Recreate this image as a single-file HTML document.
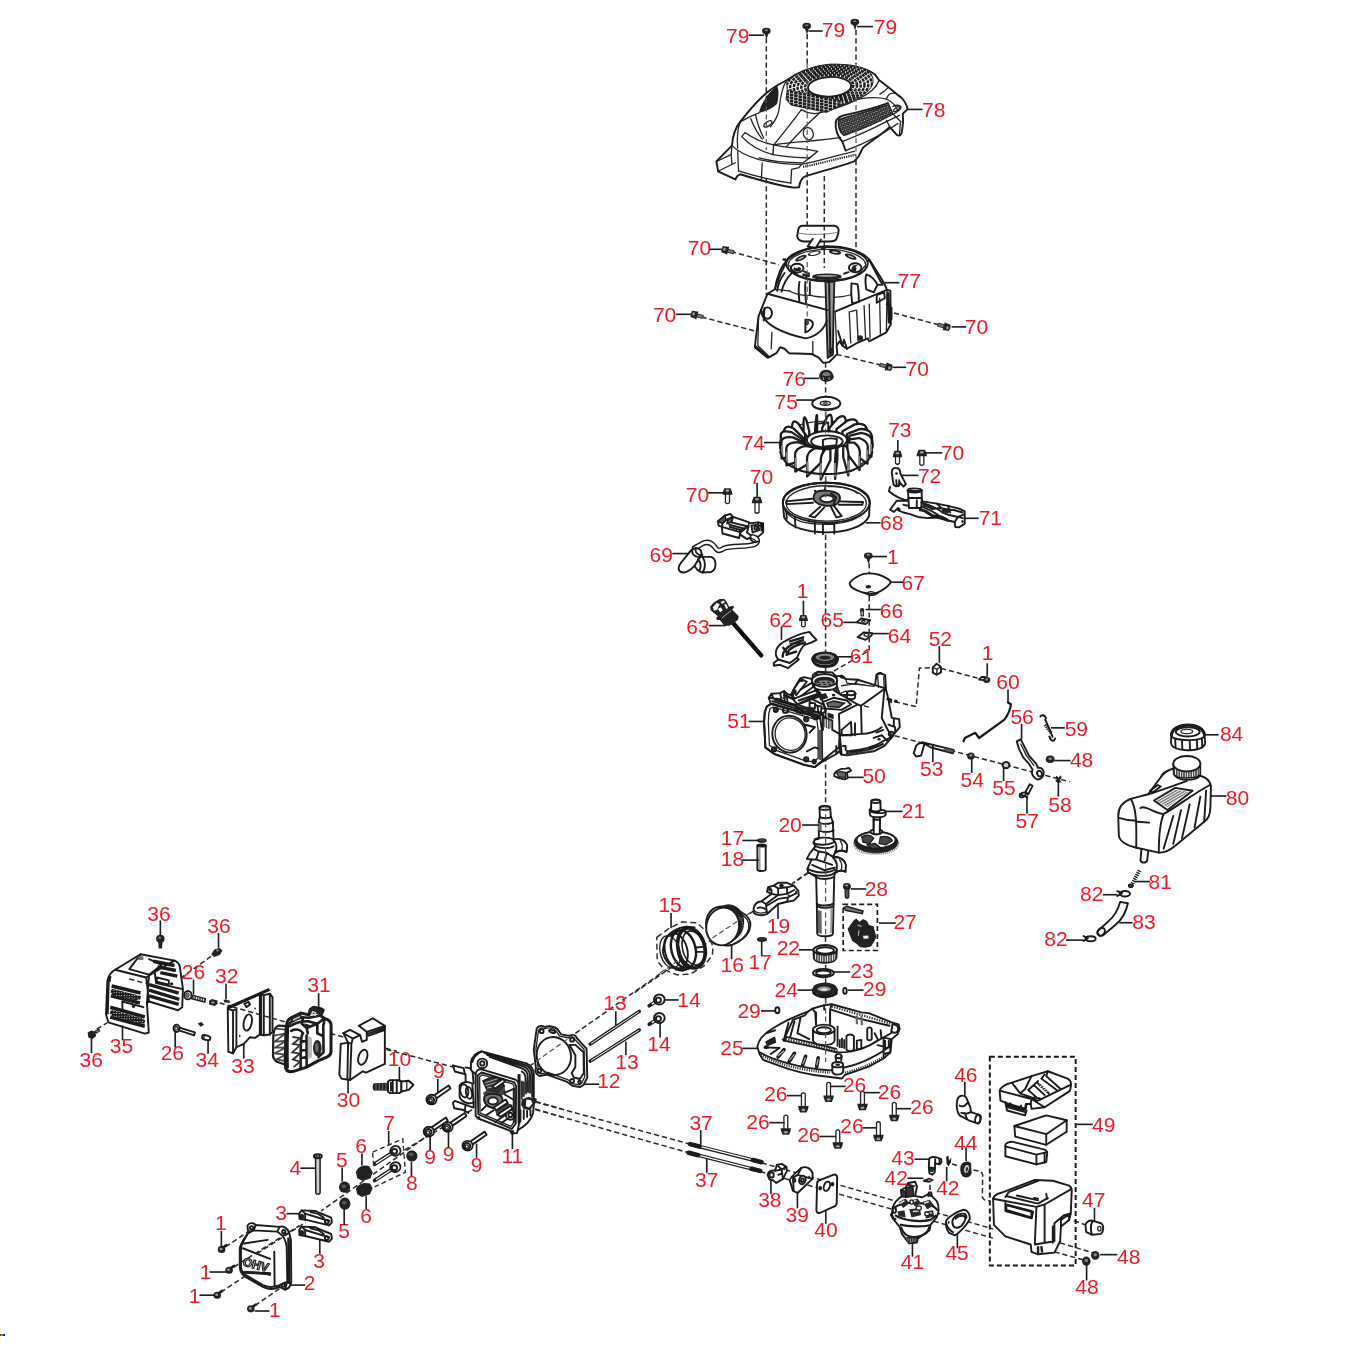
<!DOCTYPE html>
<html><head><meta charset="utf-8"><title>Engine exploded view</title>
<style>
html,body{margin:0;padding:0;background:#fff;}
body{width:1346px;height:1346px;overflow:hidden;font-family:"Liberation Sans",sans-serif;}
svg{display:block;}
.t{font-family:"Liberation Sans",sans-serif;font-size:21px;fill:#ee1c25;text-anchor:middle;}
.l{stroke:#1a1a1a;stroke-width:1.6;fill:none;}
.d{stroke:#2a2a2a;stroke-width:1.5;fill:none;stroke-dasharray:5.2 3;}
.d2{stroke:#555;stroke-width:1.2;fill:none;stroke-dasharray:5.2 3;}
.p{stroke:#222;stroke-width:1.3;fill:none;stroke-linejoin:round;stroke-linecap:round;}
.pw{stroke:#222;stroke-width:1.3;fill:#fff;stroke-linejoin:round;stroke-linecap:round;}
.pb{stroke:#1a1a1a;stroke-width:1.9;fill:none;stroke-linejoin:round;stroke-linecap:round;}
.pbw{stroke:#1a1a1a;stroke-width:1.9;fill:#fff;stroke-linejoin:round;stroke-linecap:round;}
.pt{stroke:#555;stroke-width:0.8;fill:none;stroke-linejoin:round;stroke-linecap:round;}
.k{fill:#222;stroke:none;}
.g{fill:#666;stroke:none;}
.w{fill:#fff;stroke:none;}
</style></head><body>
<svg width="1346" height="1346" viewBox="0 0 1346 1346">
<defs>
<filter id="soft" x="0" y="0" width="1346" height="1346" filterUnits="userSpaceOnUse"><feGaussianBlur stdDeviation="0.6"/></filter>
<pattern id="hx" width="2.6" height="2.6" patternUnits="userSpaceOnUse"><rect width="2.6" height="2.6" fill="#fff"/><path d="M0 0.8H2.6M0.8 0V2.6" stroke="#1a1a1a" stroke-width="1.7"/></pattern>
<pattern id="hd" width="2.4" height="2.4" patternUnits="userSpaceOnUse" patternTransform="rotate(-30)"><rect width="2.4" height="2.4" fill="#fff"/><path d="M0 0.8H2.4" stroke="#222" stroke-width="1.5"/></pattern>
<pattern id="hs" width="3" height="3" patternUnits="userSpaceOnUse" patternTransform="rotate(-25)"><rect width="3" height="3" fill="#1a1a1a"/><path d="M0 0.5H1.2M1.5 2H2.6" stroke="#fff" stroke-width="0.8"/></pattern>
<pattern id="hv" width="2.4" height="2.4" patternUnits="userSpaceOnUse"><rect width="2.4" height="2.4" fill="#fff"/><path d="M0.8 0V2.4" stroke="#222" stroke-width="1.3"/></pattern>
</defs>
<rect width="1346" height="1346" fill="#fff"/>
<g filter="url(#soft)">
<g id="00_dash">
<path class="d" d="M825.6 338L825.6 820"/>
<path class="d" d="M869.2 563.18L869.2 650.55L830.86 672.84"/>
<path class="d" d="M894.9 701.72L916.15 706.63L919.42 668.22L937.4 667.4L986.43 680.48"/>
<path class="d" d="M886.73 733.6L1069.79 781.81"/>
<path class="d" d="M825.53 936.43L825.53 945.13"/>
<path class="d" d="M808.14 872.24L792.1 883.61"/>
<path class="d" d="M808.5 872.82L793.79 882.85"/>
<path class="d" d="M753.67 910.94L634.65 992.51"/>
<path class="d" d="M825.64 964.86L825.64 969.32"/>
<path class="d" d="M825.64 978.23L825.64 983.43"/>
<path class="d" d="M825.64 997.55L825.64 1006.46"/>
<path class="d" d="M660.07 973.81L573.89 1034.44"/>
<path class="d" d="M566.46 1039.93L530.8 1065.19"/>
<path class="d" d="M454.89 1067.44L371.98 1045.78"/>
<path class="d" d="M472.27 1109.57L404.07 1150.36"/>
<path class="d" d="M535.79 1101.55L561.87 1108.9"/>
<path class="d" d="M535.13 1108.9L561.87 1116.92"/>
<path class="d" d="M424.14 1138.11L321.17 1211"/>
<path class="d" d="M211.16 956.34L181.52 977.52"/>
<path class="d" d="M96.82 1029.04L107.41 1022.69"/>
<path class="d" d="M219.63 1002.93L252.1 1012.1"/>
<path class="d" d="M232.38 1006.72L287.88 1022.77"/>
<path class="d" d="M330.27 1033.47L396.87 1051.26"/>
<path class="d" d="M535.3 1102L690 1144.1"/>
<path class="d" d="M535.3 1109.5L688.7 1152.8"/>
<path class="d" d="M761.58 1162.85L992.93 1228.92"/>
<path class="d" d="M760.24 1171.55L992.93 1238.14"/>
<path class="d" d="M952.02 1163.98L960.34 1166.6"/>
<path class="d" d="M973.42 1169.93L981.14 1171.71L982.69 1174.68L982.33 1197.27L984.12 1199.64L990.06 1201.07"/>
<path class="d" d="M930.03 1184.78L930.03 1193.11"/>
<path class="d" d="M1074.03 1220.8L1085.47 1224.89"/>
<path class="d" d="M1060.13 1242.87L1095.27 1253.49"/>
<path class="d" d="M1054.41 1251.86L1083.83 1260.03"/>
<path class="d" d="M731 251.5L779 264.8"/>
<path class="d" d="M701.5 317L757.7 331.7"/>
<path class="d" d="M894 313L939.5 325"/>
<path class="d" d="M836.6 354.4L880.7 365.1"/>
</g>
<g id="01_helpers">
</g>
<g id="10_cover78">
<path class="pbw" d="M786.72 80.24C796.53 72.88 811.24 67.16 829.22 64.71C848.83 63.89 866.81 67.98 874.99 74.52L879.07 80.24C886.43 85.14 894.6 92.5 901.14 97.4C905.22 101.49 906.86 105.57 907.67 109.17L902.77 113.74L903.1 121.92L901.95 131.72C901.14 136.63 897.87 136.63 895.42 133.36L889.7 126.82C881.52 134.99 870.08 141.53 862.73 148.07L858.64 156.24L854.55 161.14C839.03 166.86 819.41 171.77 806.34 175.85C801.43 177.49 799.8 180.76 798.98 187.3L794.08 187.62C776.92 185.33 758.94 179.94 740.14 174.22L737.04 176.18L735.4 179.45L718.08 171.28L716.44 161.47L722.98 154.61L731.97 145.62C732.79 134.99 736.05 126.82 740.14 121.92C749.13 110.48 758.94 99.03 767.11 92.5C773.65 86.78 780.19 83.51 786.72 80.24Z"/>
<path class="p" d="M786.72 80.24C781.82 87.59 780.19 99.03 779.37 107.21C778.55 115.38 775.28 120.28 770.38 126.82"/>
<path class="p" d="M740.14 121.92C745.86 118.65 752.4 115.38 758.94 112.93"/>
<path class="k" d="M758.94 112.93C760.57 103.94 767.11 94.13 776.92 85.14C779.37 89.23 778.55 99.03 776.92 103.94C772.01 108.84 765.48 111.29 758.94 112.93Z"/>
<path class="p" d="M879.07 80.24C876.62 87.59 868.45 94.13 858.64 99.03C845.56 105.57 829.22 110.48 819.41 112.93C809.61 115.38 803.07 110.48 801.43 109.66"/>
<path class="p" d="M801.43 109.66C793.26 120.28 783.45 133.36 773.65 144.8"/>
<path class="p" d="M819.41 112.93C809.61 121.92 796.53 134.99 786.72 146.43"/>
<path class="p" d="M858.64 99.03C868.45 97.4 878.25 96.58 886.43 99.03C892.96 102.3 896.23 106.39 897.87 110.48"/>
<path class="p" d="M886.43 99.03C888.06 94.13 891.33 92.82 894.6 93.31"/>
<path class="p" d="M888.06 87.59C884.79 90.86 882.34 92.82 879.89 94.13"/>
<clipPath id="gc"><path d="M786.52 81C794.32 74.76 806.81 68.52 818.25 65.92C832.81 62.8 853.61 64.36 864.01 68.52C871.29 71.64 873.89 76.84 872.85 83.08C871.81 89.32 864.01 95.56 853.61 100.77L842.17 104.93L826.57 112.41L791.2 105.13L786 99.21L787.25 89.84Z"/></clipPath>
<g clip-path="url(#gc)">
<path class="" d="M786.52 81C794.32 74.76 806.81 68.52 818.25 65.92C832.81 62.8 853.61 64.36 864.01 68.52C871.29 71.64 873.89 76.84 872.85 83.08C871.81 89.32 864.01 95.56 853.61 100.77L842.17 104.93L826.57 112.41L791.2 105.13L786 99.21L787.25 89.84Z" fill="#fff" stroke="none"/>
<ellipse class="" cx="829.17" cy="86.2" rx="24.13" ry="11.44" transform="rotate(-3 829.17 86.2)" fill="none" stroke="#1a1a1a" stroke-width="2.5" stroke-dasharray="3.2 0.9"/>
<ellipse class="" cx="829.17" cy="86.2" rx="27.88" ry="13.42" transform="rotate(-3 829.17 86.2)" fill="none" stroke="#1a1a1a" stroke-width="2.5" stroke-dasharray="3.2 0.9"/>
<ellipse class="" cx="829.17" cy="86.2" rx="31.62" ry="15.39" transform="rotate(-3 829.17 86.2)" fill="none" stroke="#1a1a1a" stroke-width="2.5" stroke-dasharray="3.2 0.9"/>
<ellipse class="" cx="829.17" cy="86.2" rx="35.36" ry="17.37" transform="rotate(-3 829.17 86.2)" fill="none" stroke="#1a1a1a" stroke-width="2.5" stroke-dasharray="3.2 0.9"/>
<ellipse class="" cx="829.17" cy="86.2" rx="39.11" ry="19.35" transform="rotate(-3 829.17 86.2)" fill="none" stroke="#1a1a1a" stroke-width="2.5" stroke-dasharray="3.2 0.9"/>
<ellipse class="" cx="829.17" cy="86.2" rx="42.85" ry="21.32" transform="rotate(-3 829.17 86.2)" fill="none" stroke="#1a1a1a" stroke-width="2.5" stroke-dasharray="3.2 0.9"/>
<ellipse class="" cx="829.17" cy="86.2" rx="46.6" ry="23.3" transform="rotate(-3 829.17 86.2)" fill="none" stroke="#1a1a1a" stroke-width="2.5" stroke-dasharray="3.2 0.9"/>
<path class="" d="M784.96 89.32L845.29 101.81L826.57 113.25L784.96 104.93Z" fill="#fff" stroke="none"/>
<path class="" d="M785.48 90.57L843.21 102.22" fill="none" stroke="#1a1a1a" stroke-width="2.7" stroke-dasharray="3.6 0.8"/>
<path class="" d="M785.48 93.69L843.21 105.34" fill="none" stroke="#1a1a1a" stroke-width="2.7" stroke-dasharray="3.6 0.8"/>
<path class="" d="M785.48 96.81L843.21 108.46" fill="none" stroke="#1a1a1a" stroke-width="2.7" stroke-dasharray="3.6 0.8"/>
<path class="" d="M785.48 99.93L843.21 111.58" fill="none" stroke="#1a1a1a" stroke-width="2.7" stroke-dasharray="3.6 0.8"/>
<path class="" d="M785.48 103.05L843.21 114.7" fill="none" stroke="#1a1a1a" stroke-width="2.7" stroke-dasharray="3.6 0.8"/>
<path class="" d="M785.48 106.17L843.21 117.82" fill="none" stroke="#1a1a1a" stroke-width="2.7" stroke-dasharray="3.6 0.8"/>
<path class="" d="M785.48 109.29L843.21 120.94" fill="none" stroke="#1a1a1a" stroke-width="2.7" stroke-dasharray="3.6 0.8"/>
</g>
<path class="" d="M786.52 81C794.32 74.76 806.81 68.52 818.25 65.92C832.81 62.8 853.61 64.36 864.01 68.52C871.29 71.64 873.89 76.84 872.85 83.08C871.81 89.32 864.01 95.56 853.61 100.77L842.17 104.93L826.57 112.41L791.2 105.13L786 99.21L787.25 89.84Z" fill="none" stroke="#222" stroke-width="0.9"/>
<ellipse class="pbw" cx="829.55" cy="86.78" rx="21.58" ry="9.81" transform="rotate(-3 829.55 86.78)" stroke-width="2.6"/>
<path class="" d="M839.03 119.47C852.1 115.38 871.72 110.48 888.88 104.75L892.96 114.07C878.25 121.92 860.27 130.09 843.93 135.32C839.03 131.72 837.39 125.19 839.03 119.47Z" fill="url(#hs)" stroke="#222" stroke-width="1.4"/>
<path class="pb" d="M835.76 121.92C837.39 117.01 842.3 115.38 847.2 114.56C861.91 111.29 876.62 107.21 888.06 103.12"/>
<path class="pb" d="M835.76 121.92C834.94 128.45 837.39 136.63 842.3 141.53L845.56 150.52"/>
<path class="p" d="M892.96 114.07L901.14 121.92M889.7 126.82L886.43 120.28M892.96 106.39C896.23 104.75 900.32 104.75 901.14 107.21C899.5 111.29 895.42 112.93 892.96 114.07"/>
<ellipse class="p" cx="896.56" cy="109.17" rx="3.6" ry="1.47" transform="rotate(-35 896.56 109.17)"/>
<path class="p" d="M895.42 133.36L892.96 130.09M900.32 122.73L899.5 134.99"/>
<ellipse class="p" cx="767.93" cy="123.88" rx="4.58" ry="2.12" transform="rotate(-35 767.93 123.88)"/>
<ellipse class="p" cx="808.3" cy="133.68" rx="4.9" ry="6.21" transform="rotate(-15 808.3 133.68)"/>
<path class="p" d="M773.65 144.8C789.99 141.53 819.41 141.53 840.66 137.44"/>
<path class="p" d="M842.3 141.53C868.45 131.72 884.79 121.92 899.5 115.38"/>
<path class="p" d="M845.56 150.52C861.91 144.8 881.52 134.99 897.87 123.55"/>
<path class="pw" d="M773.65 144.8C786.72 148.07 803.07 148.07 817.78 151.34L809.61 157.88C796.53 157.88 783.45 156.24 772.83 154.61Z"/>
<path class="pw" d="M745.04 132.54C754.03 139.08 763.84 143.16 773.65 144.8L772.83 154.61C760.57 151.34 749.13 144.8 741.78 136.63Z"/>
<path class="p" d="M809.61 157.88L803.07 162.78C789.99 162.78 770.38 161.14 758.94 157.88"/>
<path class="p" d="M731.97 145.62C737.69 151.34 747.5 156.24 758.94 159.51C773.65 162.78 789.99 164.41 801.43 164.41"/>
<path class="p" d="M737.69 151.34L738.51 170.95M762.21 162.78L761.39 179.12M801.43 164.41L798.98 167.68L791.63 169.32L790.81 183.21"/>
<path class="p" d="M738.51 170.95C754.03 175.85 773.65 180.76 790.81 183.21"/>
<path class="p" d="M718.08 171.28L735.24 162.78M716.44 161.47L731.15 154.61L731.97 145.62"/>
<path class="p" d="M731.15 154.61L731.97 164.41"/>
<path class="p" d="M801.43 164.41C819.41 161.14 839.03 154.61 854.55 151.34"/>
<path class="" d="M803.07 166.86C819.41 163.6 840.66 157.88 856.19 154.61" stroke="#222" stroke-width="2.2" fill="none" stroke-dasharray="1.2 1"/>
<path class="p" d="M750.77 118.65C754.03 126.82 758.94 134.99 762.21 139.08M755.67 115.38C757.3 123.55 760.57 131.72 763.84 138.26"/>
<path class="p" d="M740.14 121.92C737.69 128.45 736.87 138.26 737.69 148.07"/>
</g>
<g id="11_starter77">
<path class="pbw" d="M767.49 293.75L774.92 289.29C777.15 274.44 781.6 265.52 787.55 259.58C799.44 249.18 817.27 245.46 829.15 246.2C846.98 246.2 863.33 252.15 869.27 259.58C876.7 271.46 881.16 277.41 884.13 283.35L887.1 290.04L890.37 290.78L890.82 324.21L886.36 332.38L869.27 341.3L867.79 338.33L857.38 342.79L846.98 348.73L842.53 345.76L839.55 341.3L836.58 345.76L837.33 353.93L829.15 362.1L823.21 362.85L818.75 357.64L811.32 353.93L789.03 353.19L784.58 348.73L780.12 347.24L776.4 353.19L768.23 357.64L754.86 346.5L758.57 316.04Z"/>
<ellipse class="pb" cx="826.92" cy="263.74" rx="40.86" ry="16.79"/>
<ellipse class="p" cx="826.92" cy="265.52" rx="38.93" ry="16.05"/>
<path class="p" d="M789.78 265.52C793.49 277.41 811.32 281.12 826.92 281.12C842.53 281.12 858.87 277.41 864.52 266.26"/>
<ellipse class="k" cx="800.92" cy="258.09" rx="6.24" ry="2.38" transform="rotate(-25 800.92 258.09)"/>
<ellipse class="" cx="800.92" cy="258.09" rx="3.27" ry="0.74" transform="rotate(-25 800.92 258.09)" fill="#ccc"/>
<ellipse class="k" cx="814.29" cy="253.34" rx="6.69" ry="2.38" transform="rotate(-12 814.29 253.34)"/>
<ellipse class="w" cx="814.29" cy="253.34" rx="4.75" ry="1.34" transform="rotate(-12 814.29 253.34)"/>
<ellipse class="k" cx="835.1" cy="252.15" rx="6.24" ry="2.38" transform="rotate(8 835.1 252.15)"/>
<ellipse class="" cx="835.1" cy="252.15" rx="3.27" ry="0.74" transform="rotate(8 835.1 252.15)" fill="#ccc"/>
<ellipse class="k" cx="850.7" cy="256.6" rx="6.24" ry="2.38" transform="rotate(22 850.7 256.6)"/>
<ellipse class="" cx="850.7" cy="256.6" rx="3.27" ry="0.74" transform="rotate(22 850.7 256.6)" fill="#ccc"/>
<ellipse class="pb" cx="797.21" cy="268.19" rx="6.24" ry="4.46" stroke-width="2.6"/>
<ellipse class="k" cx="797.21" cy="269.09" rx="3.86" ry="2.38"/>
<ellipse class="" cx="796.46" cy="267.3" rx="2.08" ry="1.04" fill="#ddd"/>
<ellipse class="pb" cx="855.16" cy="267.75" rx="6.24" ry="4.46" stroke-width="2.6"/>
<path class="k" d="M849.96 272.21L852.93 265.52L857.38 264.78L855.9 271.46Z"/>
<ellipse class="" cx="857.38" cy="267.01" rx="1.78" ry="1.19" fill="#ddd"/>
<path class="pb" d="M803.89 271.46L809.09 273.69M848.47 272.21L844.01 273.69"/>
<ellipse class="k" cx="826.92" cy="276.66" rx="14.86" ry="3.27"/>
<ellipse class="" cx="826.92" cy="275.92" rx="10.4" ry="0.89" fill="#aaa"/>
<ellipse class="k" cx="784.58" cy="259.58" rx="2.38" ry="1.34"/>
<ellipse class="k" cx="823.21" cy="247.99" rx="2.67" ry="1.19"/>
<ellipse class="k" cx="858.87" cy="253.34" rx="2.67" ry="1.19" transform="rotate(20 858.87 253.34)"/>
<ellipse class="k" cx="869.27" cy="261.06" rx="1.49" ry="1.19"/>
<path class="" d="M802.41 274.44L809.84 275.92M806.12 273.69L806.86 277.41" stroke="#1a1a1a" stroke-width="2.6" fill="none"/>
<path class="pb" d="M787.55 259.58C781.6 271.46 777.15 280.38 774.92 289.29M791.26 273.69C786.06 278.89 783.09 284.84 781.6 291.52M784.58 272.95C780.12 278.89 777.89 284.84 777.15 290.78"/>
<path class="pb" d="M869.27 259.58C873.73 268.49 878.19 277.41 882.64 284.84M866.3 274.44C870.76 275.92 875.22 280.38 877.44 284.84L882.64 284.84M866.3 274.44C864.81 278.89 865.56 284.84 866.3 289.29L873.73 292.27L877.44 284.84"/>
<path class="pb" d="M799.44 281.86C797.95 289.29 798.69 295.24 799.44 301.92M805.38 281.86C804.64 289.29 805.38 295.24 806.12 302.67M809.84 281.86L809.84 295.24"/>
<path class="pbw" d="M851.44 283.35C850.7 292.27 851.44 298.21 852.18 303.41L858.87 301.92C858.87 295.24 858.87 289.29 857.38 284.09Z"/>
<path class="p" d="M809.84 295.24C820.24 298.21 841.04 298.21 851.44 294.49M789.03 290.78C793.49 293.75 802.41 295.98 809.84 295.24"/>
<path class="pbw" d="M876.7 295.24L884.13 292.27L884.87 298.21L876.7 302.67Z"/>
<path class="" d="M825.44 281.86L826.18 310.1L827.67 357.64L832.87 354.67L833.61 310.1L834.35 281.86Z" fill="#999" stroke="#1a1a1a" stroke-width="1.8"/>
<path class="pb" d="M829.15 282.61L830.34 354.67"/>
<path class="pb" d="M767.49 293.75L827.67 310.1"/>
<path class="p" d="M774.92 289.29L789.03 290.78"/>
<path class="pb" d="M760.8 310.1C762.29 324.96 784.58 333.87 805.38 338.33C817.27 336.84 824.7 327.93 826.92 320.5"/>
<path class="p" d="M758.57 316.04L757.83 345.76L768.23 355.42M771.95 332.38L771.2 348.73M812.81 341.3L812.81 353.93"/>
<path class="" d="M754.86 346.5L768.23 357.64" stroke="#1a1a1a" stroke-width="3" fill="none"/>
<ellipse class="pb" cx="767.49" cy="313.07" rx="4.46" ry="5.65"/>
<path class="pb" d="M764.52 307.87L763.77 320.5"/>
<path class="pbw" d="M805.38 319.75C809.84 319.01 813.55 321.24 812.81 324.96C811.32 329.41 807.61 331.64 805.38 332.38Z"/>
<ellipse class="k" cx="806.86" cy="322.73" rx="2.08" ry="2.67"/>
<path class="pb" d="M835.1 311.58L886.36 290.04"/>
<path class="p" d="M836.58 345.76L835.1 311.58M887.1 290.04L886.36 332.38"/>
<path class="p" d="M849.21 311.58L850.7 342.79M856.64 310.1L858.13 341.3M850.7 311.58L856.64 310.1M864.07 305.64L865.56 338.33M869.27 304.15L870.01 338.33M879.67 298.21L880.42 333.87M886.36 304.15L888.59 304.15"/>
<path class="" d="M887.85 292.27L889.33 323.47" stroke="#1a1a1a" stroke-width="3" fill="none"/>
<path class="pb" d="M889.33 307.12L891.56 307.87L891.56 319.01L889.33 319.75"/>
<path class="pb" d="M838.07 330.9L842.53 345.76M844.01 339.81L846.98 348.73M842.53 345.76L844.01 339.81"/>
<ellipse class="k" cx="860.06" cy="338.03" rx="2.97" ry="2.67"/>
<ellipse class="k" cx="831.38" cy="350.96" rx="2.67" ry="3.27"/>
<path class="pbw" d="M802.41 225.7L834.35 225.7C838.07 226.14 839.26 229.12 838.37 232.83L836.58 238.77C835.1 241.45 832.12 241.45 829.15 241.45L803.89 241.45C799.44 241 797.21 238.77 797.21 235.8L798.25 229.86C798.69 227.18 800.18 226 802.41 225.7Z"/>
<path class="pt" d="M798.25 232.83C802.41 235.06 829.15 235.06 838.07 232.09"/>
<path class="pbw" d="M812.81 238.77L807.61 246.5L815.78 247.99L820.98 239.52"/>
</g>
<g id="12_fan_flywheel">
<path class="k" d="M819.17 375.7C819.57 371.69 822.91 369.68 826.26 369.68C830.27 369.68 832.94 372.36 833.61 376.37C834.28 379.04 830.94 381.72 826.26 381.72C822.24 381.72 818.9 379.04 819.17 375.7Z"/>
<path class="" d="M821.84 375.03C822.24 373.02 824.25 371.95 826.26 371.95C828.53 371.95 830.27 373.02 830.67 375.03C829.6 376.37 822.91 376.37 821.84 375.03Z" fill="#777"/>
<path class="" d="M823.18 377.04L823.58 379.98M829.33 377.04L828.93 379.98" stroke="#999" stroke-width="1" fill="none"/>
<ellipse class="pbw" cx="826.26" cy="403.51" rx="14.04" ry="6.69"/>
<path class="p" d="M812.48 404.45C814.89 410.47 837.62 410.47 840.03 404.45"/>
<ellipse class="p" cx="825.32" cy="403.25" rx="5.08" ry="2.01"/>
<ellipse class="" cx="825.32" cy="403.51" rx="2.41" ry="0.94" fill="#888" stroke="#222" stroke-width="0.8"/>
<path class="pw" d="M779.45 445.24C779.45 413.14 873.06 413.14 873.06 445.24C873.06 451.92 867.71 459.95 853 470.65C833.61 476 817.56 476 799.51 470.65C784.8 459.95 779.45 451.92 779.45 445.24Z"/>
<path class="" d="M831.87 421.17Q831.87 410.47 826.92 417.29L822.11 428.25L822.11 435.61L831.87 429.86Z" fill="#fff" stroke="#1a1a1a" stroke-width="2.3" stroke-linejoin="round"/>
<path class="" d="M817.16 421.43Q817.16 410.74 816.23 418.09L815.16 429.46L815.16 436.81L817.16 430.13Z" fill="#fff" stroke="#1a1a1a" stroke-width="2.3" stroke-linejoin="round"/>
<path class="" d="M845.91 423.04Q845.91 412.34 837.62 418.22L829.33 428.12L829.33 435.48L845.91 431.73Z" fill="#fff" stroke="#1a1a1a" stroke-width="2.3" stroke-linejoin="round"/>
<path class="" d="M803.52 423.84Q803.52 413.14 806.46 420.36L809.27 431.46L809.27 438.82L803.52 432.53Z" fill="#fff" stroke="#1a1a1a" stroke-width="2.3" stroke-linejoin="round"/>
<path class="" d="M858.08 426.92Q858.08 416.22 847.25 420.63L836.42 429.19L836.42 436.55L858.08 435.61Z" fill="#fff" stroke="#1a1a1a" stroke-width="2.3" stroke-linejoin="round"/>
<path class="" d="M792.02 428.12Q792.02 417.42 798.57 423.84L805.13 434.41L805.13 441.76L792.02 436.81Z" fill="#fff" stroke="#1a1a1a" stroke-width="2.3" stroke-linejoin="round"/>
<path class="" d="M867.18 432.4Q867.18 421.7 854.74 424.38L842.44 431.2L842.44 438.55L867.18 441.09Z" fill="#fff" stroke="#1a1a1a" stroke-width="2.3" stroke-linejoin="round"/>
<path class="" d="M783.73 433.87Q783.73 423.17 793.49 428.39L803.12 437.75L803.12 445.1L783.73 442.56Z" fill="#fff" stroke="#1a1a1a" stroke-width="2.3" stroke-linejoin="round"/>
<path class="" d="M872.12 438.95Q872.12 428.25 859.55 429.06L846.85 434L846.85 441.36L872.12 447.64Z" fill="#fff" stroke="#1a1a1a" stroke-width="2.3" stroke-linejoin="round"/>
<path class="" d="M780.79 436.55Q779.85 429.19 791.49 432.13L803.25 439.89L803.25 451.26L781.05 451.26Z" fill="#fff" stroke="#1a1a1a" stroke-width="2.3" stroke-linejoin="round"/>
<path class="" d="M781.59 438.55L781.86 449.65" stroke="#888" stroke-width="2" fill="none"/>
<path class="" d="M871.72 441.89Q872.66 434.54 861.03 432.93L849.26 435.88L849.26 447.24L871.46 456.6Z" fill="#fff" stroke="#1a1a1a" stroke-width="2.3" stroke-linejoin="round"/>
<path class="" d="M870.92 443.9L870.65 455" stroke="#888" stroke-width="2" fill="none"/>
<path class="" d="M781.32 443.5Q780.39 436.14 792.96 437.35L805.66 443.1L805.66 454.47L781.59 458.34Z" fill="#fff" stroke="#1a1a1a" stroke-width="2.3" stroke-linejoin="round"/>
<path class="" d="M782.12 445.51L782.39 456.6" stroke="#888" stroke-width="2" fill="none"/>
<path class="" d="M867.71 448.58Q868.78 441.23 859.02 438.02L849.39 439.35L849.39 450.72L867.44 463.69Z" fill="#fff" stroke="#1a1a1a" stroke-width="2.3" stroke-linejoin="round"/>
<path class="" d="M867.04 450.59L866.78 461.95" stroke="#888" stroke-width="2" fill="none"/>
<path class="" d="M786.27 450.05Q785.33 442.7 797.77 442.03L810.07 445.91L810.07 457.27L786.54 465.3Z" fill="#fff" stroke="#1a1a1a" stroke-width="2.3" stroke-linejoin="round"/>
<path class="" d="M786.94 452.06L787.21 463.56" stroke="#888" stroke-width="2" fill="none"/>
<path class="" d="M859.82 454.33Q860.49 446.98 853.94 442.56L847.38 442.7L847.38 454.06L859.55 470.11Z" fill="#fff" stroke="#1a1a1a" stroke-width="2.3" stroke-linejoin="round"/>
<path class="" d="M859.15 456.34L859.02 468.24" stroke="#888" stroke-width="2" fill="none"/>
<path class="" d="M795.1 455.53Q794.43 448.18 805.26 445.77L816.09 447.91L816.09 459.28L795.36 471.45Z" fill="#fff" stroke="#1a1a1a" stroke-width="2.3" stroke-linejoin="round"/>
<path class="" d="M795.63 457.54L795.9 469.58" stroke="#888" stroke-width="2" fill="none"/>
<path class="" d="M848.45 458.61Q848.99 451.26 846.05 446.04L843.24 445.64L843.24 457.01L848.32 475.33Z" fill="#fff" stroke="#1a1a1a" stroke-width="2.3" stroke-linejoin="round"/>
<path class="" d="M848.19 460.62L848.05 473.45" stroke="#888" stroke-width="2" fill="none"/>
<path class="" d="M807 459.41Q806.6 452.06 814.89 448.18L823.18 448.98L823.18 460.35L807.13 476.4Z" fill="#fff" stroke="#1a1a1a" stroke-width="2.3" stroke-linejoin="round"/>
<path class="" d="M807.4 461.42L807.53 474.39" stroke="#888" stroke-width="2" fill="none"/>
<path class="" d="M835.08 461.02Q835.35 453.66 836.29 448.31L837.36 447.64L837.36 459.01L835.08 478.94Z" fill="#fff" stroke="#1a1a1a" stroke-width="2.3" stroke-linejoin="round"/>
<path class="" d="M834.95 463.02L834.81 476.8" stroke="#888" stroke-width="2" fill="none"/>
<path class="" d="M820.77 461.29Q820.64 453.93 825.59 449.12L830.4 448.85L830.4 460.22L820.77 479.47Z" fill="#fff" stroke="#1a1a1a" stroke-width="2.3" stroke-linejoin="round"/>
<path class="" d="M820.91 463.29L820.91 477.33" stroke="#888" stroke-width="2" fill="none"/>
<ellipse class="pbw" cx="826.92" cy="439.89" rx="20.06" ry="8.83" stroke-width="2.4"/>
<ellipse class="pb" cx="826.92" cy="441.49" rx="15.78" ry="6.15"/>
<path class="pbw" d="M822.91 439.89L822.91 446.58L836.29 445.24L836.95 439.22C832.27 437.88 826.92 438.28 822.91 439.89Z"/>
<path class="pb" d="M815.56 423.84L816.23 431.86M828.26 422.5L828.26 431.86M815.56 423.84L828.26 422.5"/>
<path class="pb" d="M780.12 451.92C784.13 469.31 806.86 473.99 826.26 473.99C846.98 473.99 868.38 467.97 872.39 451.92"/>
<path class="pbw" d="M782.79 502.74C782.79 476 869.72 476 869.72 502.74L869.05 516.11C860.36 537.51 793.49 537.51 784.13 517.45Z"/>
<ellipse class="pb" cx="826.26" cy="502.74" rx="43.46" ry="20.06"/>
<ellipse class="p" cx="826.26" cy="503.41" rx="40.12" ry="17.65"/>
<path class="p" d="M783.06 505.42C788.14 522.8 809.54 524.14 826.26 524.14C846.98 524.14 864.37 517.45 869.45 505.42"/>
<path class="pb" d="M814.89 523.47L814.89 533.5M822.91 524.14L822.91 534.17M823.58 524.14L834.28 524.14L834.28 533.77M794.83 517.45L795.5 527.48M786.14 509.43L786.81 518.79"/>
<path class="pb" d="M812.21 498.73L786.14 501.4L786.81 504.08L812.88 502.74M838.96 501.4L863.03 502.07L862.36 504.75L838.96 504.75M820.24 506.75L809.54 516.11L814.89 517.45L824.25 507.42M833.61 505.42L841.63 516.11L836.29 517.45L830.94 506.75M825.59 485.36L824.25 493.38M814.89 490.71L820.24 496.05"/>
<path class="" d="M814.89 493.38C817.56 489.37 833.61 489.37 838.96 494.72C841.63 498.73 838.96 504.08 833.61 505.42C826.92 506.75 818.9 505.42 814.89 501.4C812.88 498.73 813.28 496.05 814.89 493.38Z" fill="#777" stroke="#1a1a1a" stroke-width="1.8"/>
<ellipse class="pbw" cx="826.92" cy="498.73" rx="6.69" ry="3.48"/>
<path class="pb" d="M830.94 493.38L836.29 497.39L833.61 504.08"/>
<path class="p" d="M802.85 485.36C809.54 484.02 817.56 483.35 825.59 483.35M828.26 486.69C838.96 486.03 849.66 488.03 857.68 493.38"/>
<g transform="translate(757 500) rotate(0)"><path class="pw" d="M-2 0V12.25 Q0 14.25 2 12.25V0Z"/><path class="k" d="M-3.22 -3.25 L3.22 -3.25 L4.6 0 L5.29 3.25 L-5.29 3.25 L-4.6 0Z"/><ellipse class="w" cx="0" cy="-0.78" rx="1.93" ry="1.3" opacity="0.55"/></g>
<g transform="translate(897.5 454) rotate(0)"><path class="pw" d="M-2 0V9.25 Q0 11.25 2 9.25V0Z"/><path class="k" d="M-2.94 -3.25 L2.94 -3.25 L4.2 0 L4.83 3.25 L-4.83 3.25 L-4.2 0Z"/><ellipse class="w" cx="0" cy="-0.78" rx="1.76" ry="1.3" opacity="0.55"/></g>
</g>
<g id="13_brake71">
<g transform="translate(921.82 453.1) rotate(0)"><path class="pw" d="M-2 0V11.25 Q0 13.25 2 11.25V0Z"/><path class="k" d="M-3.22 -3.25 L3.22 -3.25 L4.6 0 L5.29 3.25 L-5.29 3.25 L-4.6 0Z"/><ellipse class="w" cx="0" cy="-0.78" rx="1.93" ry="1.3" opacity="0.55"/></g>
<path class="pbw" d="M891.73 472.38C891.73 469.03 893.96 467.7 896.19 467.92C899.2 468.14 900.31 470.71 900.31 473.49L905.88 484.08L903.43 486.64L899.87 482.41L899.2 485.75L896.19 486.42L893.63 484.64L892.85 480.18Z"/>
<ellipse class="k" cx="896.52" cy="473.49" rx="1.34" ry="1.34"/>
<path class="pb" d="M896.19 480.18L896.75 485.19M899.2 480.18L899.2 484.64"/>
<path class="pb" d="M890.06 486.86L888.95 491.32C895.63 496.89 902.32 499.68 908.45 500.79"/>
<path class="pbw" d="M896.75 500.79L890.06 509.71L893.96 511.94L896.75 509.15L899.53 510.82L903.43 512.5L910.12 514.17L917.92 516.95L927.95 518.07L936.86 517.51L946.89 520.3L954.7 521.97L955.25 526.98L959.15 527.21L964.73 523.64L964.73 511.38L959.15 508.6L948.01 505.81L936.86 503.58L922.38 501.35L921.26 498.01L908.45 498.01L908.45 500.79Z"/>
<path class="pbw" d="M907.89 489.65C907.89 487.98 920.15 487.98 921.49 489.65L921.82 498.01L921.26 508.04L909 508.04L908.45 498.01Z"/>
<path class="" d="M907.89 489.65C908.45 492.44 920.71 492.44 921.49 489.65" stroke="#1a1a1a" stroke-width="3.5" fill="none"/>
<path class="pb" d="M908.45 498.01L921.26 498.01M916.81 500.24L916.81 508.04"/>
<path class="pb" d="M921.26 502.47C927.95 504.7 936.86 508.04 942.44 512.5L948.01 514.73L958.04 516.95L963.61 514.73M922.38 506.92C927.95 509.15 934.64 512.5 939.09 515.84M925.72 504.7L932.41 509.15L939.09 508.04L946.89 509.15L954.7 510.27L962.5 512.5M936.86 503.58L941.32 508.04M948.01 505.81L950.24 512.5M954.7 521.97L958.04 516.95L962.5 518.07"/>
<path class="" d="M919.03 509.15L925.72 511.38L932.41 515.84L941.32 516.95L948.01 520.3" stroke="#1a1a1a" stroke-width="3" fill="none"/>
<path class="k" d="M922.38 502.47L932.41 505.81L932.41 509.15L922.38 506.37ZM942.44 508.04L951.35 510.27L948.01 513.61L941.32 511.38Z"/>
<path class="pb" d="M903.43 504.7L906.78 505.81M897.86 508.04L899.53 509.15"/>
<ellipse class="k" cx="906.78" cy="505.25" rx="1.11" ry="0.89"/>
<ellipse class="k" cx="920.15" cy="510.27" rx="1.34" ry="1.11"/>
<ellipse class="k" cx="948.01" cy="520.85" rx="1.34" ry="1"/>
<ellipse class="k" cx="962.5" cy="521.41" rx="1.11" ry="1.56"/>
</g>
<g id="14_coil69">
<g transform="translate(727.48 491.4) rotate(0)"><path class="pw" d="M-2 0V11.25 Q0 13.25 2 11.25V0Z"/><path class="k" d="M-3.08 -3.25 L3.08 -3.25 L4.4 0 L5.06 3.25 L-5.06 3.25 L-4.4 0Z"/><ellipse class="w" cx="0" cy="-0.78" rx="1.85" ry="1.3" opacity="0.55"/></g>
<path class="pbw" d="M718.01 521.26L724.7 515.69L730.27 514.02L733.05 516.81L749.21 522.38L748.66 525.72L740.3 532.41L739.18 537.98L722.47 533.52L721.91 526.84L718.57 525.72Z"/>
<path class="pb" d="M721.91 526.84L739.18 531.85L740.3 532.41M739.18 531.85L748.66 525.72M724.7 515.69L725.81 520.15L733.05 516.81M725.81 520.15L722.47 523.49L721.91 526.84M733.05 516.81L731.38 522.38L746.98 526.28"/>
<path class="" d="M718.01 521.26L722.47 523.49L725.81 520.15L724.7 515.69ZM728.04 519.03L732.5 517.92L731.38 522.38L726.92 523.49Z" fill="#555" stroke="#1a1a1a" stroke-width="1.5"/>
<path class="pb" d="M729.15 524.61L743.64 528.51M729.71 526.84L742.53 530.74"/>
<path class="pbw" d="M749.21 523.49L758.13 522.38L763.14 523.49L763.14 532.41L758.13 536.86L751.44 535.75L746.98 532.41L748.66 525.72"/>
<path class="pb" d="M751.44 525.72L758.13 524.61L759.24 530.18L752.56 532.41ZM758.13 522.38L758.13 524.61M763.14 523.49L759.24 525.72"/>
<ellipse class="pb" cx="755.9" cy="527.95" rx="1.56" ry="1.56"/>
<path class="" d="M761.69 524.61L762.36 531.29" stroke="#1a1a1a" stroke-width="3.5" fill="none"/>
<path class="pb" d="M740.3 534.64L746.98 539.09L751.44 536.86"/>
<path class="" d="M752.56 536.86C758.13 537.98 759.24 542.44 753.67 544.67C745.87 546.89 731.38 545.78 724.7 548.01C720.24 550.24 718.01 552.47 714.67 546.89C711.32 542.44 706.86 541.32 702.41 543.55L694.61 548.01" stroke="#1a1a1a" stroke-width="5.5" fill="none" stroke-linecap="round"/>
<path class="" d="M752.56 536.86C758.13 537.98 759.24 542.44 753.67 544.67C745.87 546.89 731.38 545.78 724.7 548.01C720.24 550.24 718.01 552.47 714.67 546.89C711.32 542.44 706.86 541.32 702.41 543.55L694.61 548.01" stroke="#fff" stroke-width="2.6" fill="none" stroke-linecap="round"/>
<path class="pb" d="M749.77 537.98C751.44 541.32 754.78 543.55 758.13 541.32"/>
<path class="pbw" d="M690.15 551.35C692.38 548.01 697.95 546.89 700.74 550.24L702.41 556.92L711.32 556.92C716.89 559.15 716.89 569.18 711.32 571.97L702.41 572.53C697.95 571.41 695.72 568.07 694.61 565.84C690.15 570.3 684.58 573.64 680.68 571.97C677.33 569.74 678.45 565.84 681.23 562.5Z"/>
<path class="pb" d="M692.38 550.24C691.26 554.7 695.72 558.04 700.74 556.37M695.72 548.01C694.61 552.47 697.95 555.81 702.41 554.7M702.41 556.92C705.75 561.38 705.75 568.07 702.41 572.53M697.95 559.15C701.29 562.5 701.29 568.07 699.06 570.85M700.74 556.37C697.95 560.27 695.72 563.61 694.61 565.84"/>
</g>
<g id="15_mid_small">
<path class="pbw" d="M849.58 583.68C850.48 580.12 859.39 574.77 863.85 573.88C868.31 572.99 875.44 573.88 879 574.77C884.35 576.55 890.59 580.12 890.59 582.26C889.7 585.47 881.68 590.82 877.22 592.6C873.66 593.85 870.09 593.85 868.31 593.49C861.17 592.6 850.48 589.03 849.58 583.68Z"/>
<path class="p" d="M850.48 586.72C857.61 590.82 864.74 593.49 870.09 595.63C873.66 595.63 876.33 594.38 878.11 593.14"/>
<ellipse class="k" cx="868.31" cy="586.72" rx="2.85" ry="1.78"/>
<ellipse class="p" cx="870.98" cy="592.78" rx="3.21" ry="1.25"/>
<ellipse class="k" cx="868.31" cy="555.69" rx="4.3" ry="3.2"/>
<path class="k" d="M866.11 557.19L870.71 557.19L868.61 564.19Z" fill="#444"/>
<ellipse class="w" cx="868.31" cy="554.89" rx="1.8" ry="0.8" opacity="0.5"/>
<ellipse class="k" cx="862.07" cy="609.9" rx="2.32" ry="1.96"/>
<path class="pw" d="M860.82 610.97L861.17 615.78L863.31 615.78L863.31 610.97Z"/>
<path class="pbw" d="M856.72 622.38L861.17 618.45L870.09 620.24L865.63 624.16Z"/>
<ellipse class="p" cx="863.31" cy="621.31" rx="1.78" ry="0.89"/>
<path class="pbw" d="M857.61 637.18L863.85 632.36L872.23 633.08L871.52 635.39L865.63 639.85Z"/>
<ellipse class="p" cx="866.52" cy="634.86" rx="2.5" ry="1.43"/>
<ellipse class="k" cx="824.98" cy="658.04" rx="12.84" ry="6.6"/>
<ellipse class="" cx="824.98" cy="659.11" rx="12.84" ry="6.6" fill="none" stroke="#1a1a1a" stroke-width="1.6"/>
<ellipse class="" cx="824.98" cy="657.33" rx="9.27" ry="3.57" fill="#888" stroke="none"/>
<ellipse class="k" cx="824.98" cy="657.68" rx="6.06" ry="1.96"/>
<path class="pb" d="M812.32 658.57C813.03 664.81 818.38 666.95 824.98 666.95C832.64 666.95 837.64 663.92 837.99 658.57"/>
<path class="pbw" d="M773.8 663.03L778.26 659.47C773.8 654.12 775.59 646.98 782.72 642.53C791.63 637.18 802.33 632.72 809.47 631.83L813.03 636.29L816.6 639.85L811.25 642.53L804.12 645.2C800.55 648.77 798.77 654.12 796.98 657.68L798.77 659.47L788.07 668.02L780.04 664.81L773.8 665.71Z"/>
<path class="" d="M782.72 657.68C781.83 650.55 789.85 643.42 804.12 639.85M786.29 655.9C787.18 650.55 793.42 645.2 805.9 642.53M788.96 641.63L804.12 637.18M789.85 644.31L800.55 641.63M782.72 646.98L788.07 654.12L796.98 651.44" stroke="#1a1a1a" stroke-width="2.4" fill="none"/>
<path class="pb" d="M778.26 659.47L789.85 663.03L796.98 657.68"/>
<g transform="translate(803.4 617.92) rotate(0)"><path class="pw" d="M-1.8 0V8 Q0 10 1.8 8V0Z"/><path class="k" d="M-2.8 -3 L2.8 -3 L4 0 L4.6 3 L-4.6 3 L-4 0Z"/><ellipse class="w" cx="0" cy="-0.72" rx="1.68" ry="1.2" opacity="0.55"/></g>
<path class="" d="M733.28 623.28L761.22 655.38" stroke="#111" stroke-width="4.4" fill="none" stroke-linecap="round"/>
<path class="k" d="M716.05 617.93L717.83 616.15L714.86 613.77L710.7 610.21L710.1 606.64L713.67 602.48L719.61 598.92L724.37 598.92L726.75 601.89L729.12 606.64L733.28 605.75L733.88 607.83L732.1 609.61L738.63 616.15L738.04 619.72L735.07 622.1L729.72 625.66L724.37 625.66L719.61 619.72L717.24 620.31Z"/>
<path class="w" d="M712.78 607.24L716.64 603.08L719.61 603.97L717.24 609.61L714.26 610.8Z"/>
<path class="w" d="M720.51 601.89L723.48 600.4L724.96 602.18L721.99 603.97Z"/>
<path class="w" d="M717.83 609.02L720.51 607.24L722.88 610.21L720.21 612.29Z"/>
<path class="w" d="M724.07 604.56L726.15 603.97L727.93 607.83L726.45 609.32Z"/>
<path class="" d="M721.99 617.93L730.91 610.8" stroke="#aaa" stroke-width="1" fill="none"/>
</g>
<g id="16_crankcase51">
<path class="pbw" d="M764.07 721.86L764.74 712.5L766.75 706.49L770.76 703.81L768.75 697.79L771.43 693.78L780.12 693.11L784.13 691.11L786.81 693.78L790.82 695.12L793.49 689.77L800.18 678.4L804.19 677.07L812.21 679.07L812.88 675.06L817.56 671.72L832.27 672.38L836.29 676.4L841.63 675.73L845.65 679.07L857.68 679.74L875.07 685.09L876.4 675.06L880.42 673.05L885.1 675.06L886.03 689.77L887.77 696.46L891.78 717.85L899.14 719.19L899.81 727.21L895.13 732.56L892.45 736.58L884.43 745.94L873.73 751.29L846.98 755.3L841.63 754.63L838.96 751.29L836.29 753.96L822.91 761.32L814.89 767.07L804.19 764.93L774.77 754.23L765.41 747.54Z"/>
<path class="pb" d="M764.74 712.5L766.75 706.49L771.43 703.81L820.24 717.85L821.84 729.89L822.24 760.65L814.89 767.07L804.19 764.93L774.77 754.23L765.41 747.54L764.07 721.86Z"/>
<path class="p" d="M768.75 713.84L770.09 708.49L773.43 707.15L816.89 719.86L818.23 729.89L818.23 757.97L813.55 761.98L804.86 760.65L776.78 750.62L769.42 745.27L768.35 721.86Z"/>
<ellipse class="pb" cx="789.48" cy="734.17" rx="17.12" ry="18.45" transform="rotate(-12 789.48 734.17)"/>
<ellipse class="p" cx="790.15" cy="734.17" rx="14.98" ry="16.32" transform="rotate(-12 790.15 734.17)"/>
<ellipse class="pb" cx="775.84" cy="709.83" rx="2.14" ry="2.14"/>
<ellipse class="p" cx="775.84" cy="709.83" rx="0.94" ry="0.94"/>
<ellipse class="pb" cx="806.2" cy="719.19" rx="2.14" ry="2.14"/>
<ellipse class="p" cx="806.2" cy="719.19" rx="0.94" ry="0.94"/>
<ellipse class="pb" cx="774.1" cy="749.28" rx="2.14" ry="2.14"/>
<ellipse class="p" cx="774.1" cy="749.28" rx="0.94" ry="0.94"/>
<ellipse class="pb" cx="806.2" cy="759.31" rx="2.14" ry="2.14"/>
<ellipse class="p" cx="806.2" cy="759.31" rx="0.94" ry="0.94"/>
<ellipse class="pb" cx="785.47" cy="710.5" rx="2.67" ry="2.41"/>
<ellipse class="pb" cx="814.22" cy="761.58" rx="1.6" ry="1.87"/>
<path class="pb" d="M796.17 707.82L802.85 709.83L802.85 713.84L796.17 711.84Z"/>
<path class="" d="M818.9 729.89L818.9 759.31M820.24 729.89L820.64 759.98" stroke="#555" stroke-width="2.5" fill="none"/>
<path class="pb" d="M804.19 724.54L814.89 727.21L809.54 732.56M806.86 751.29L814.89 747.27L818.23 748.61"/>
<path class="pb" d="M768.75 697.79L780.12 699.13L784.13 701.81L788.14 703.14M771.43 693.78L773.43 698.46M780.12 693.11L781.46 699.13M784.13 691.11L784.8 701.81M786.81 693.78L787.47 702.47M772.1 701.14L820.24 715.85M774.77 699.8L821.58 713.84"/>
<path class="pbw" d="M790.82 695.12L814.89 681.08L818.23 683.08L796.17 699.8Z"/>
<path class="pbw" d="M793.49 689.77L798.84 681.75L802.85 679.74L806.86 681.75L796.17 695.12Z"/>
<path class="pbw" d="M792.82 699.13L817.56 689.77L820.24 693.78L797.5 704.48Z"/>
<ellipse class="k" cx="794.83" cy="691.78" rx="1.87" ry="2.41"/>
<ellipse class="k" cx="801.92" cy="680.14" rx="1.87" ry="1.87"/>
<ellipse class="k" cx="815.96" cy="673.72" rx="2.14" ry="1.6"/>
<ellipse class="k" cx="842.3" cy="677.07" rx="2.41" ry="1.6"/>
<path class="pb" d="M797.5 704.48L821.58 713.84L825.59 711.17L820.24 693.78M809.54 701.81L822.91 708.49M812.21 699.13L825.59 705.82"/>
<path class="pbw" d="M809.54 703.14L814.89 703.14L814.89 708.49L809.54 707.82ZM817.56 705.82L821.58 706.49L820.91 712.5L818.23 711.84Z"/>
<path class="pb" d="M812.21 679.07L812.88 685.76C814.89 691.11 833.61 691.78 836.95 686.43L836.29 676.4"/>
<ellipse class="pbw" cx="824.52" cy="680.41" rx="12.7" ry="6.42"/>
<ellipse class="k" cx="824.52" cy="681.48" rx="10.43" ry="4.81"/>
<ellipse class="" cx="824.52" cy="683.08" rx="8.29" ry="2.94" fill="#888"/>
<path class="" d="M816.89 682.41L832.27 682.41M818.23 684.42L830.94 684.42" stroke="#222" stroke-width="1.4" stroke-dasharray="3 2" fill="none"/>
<path class="pb" d="M836.95 686.43L839.63 693.78L842.97 695.79L857.68 704.48L861.03 705.82L884.43 689.1L886.03 689.77M861.03 705.82L861.69 733.9M857.68 704.48L838.96 713.84L839.63 733.9L841.63 754.63M884.43 689.1L881.75 717.85L887.77 729.89L892.45 736.58M841.63 729.89L851 721.86L851.66 735.24M855.01 723.2L855.01 735.24M861.69 733.9C868.38 733.9 876.4 731.23 881.75 727.21M841.63 735.24L861.69 733.9"/>
<path class="pb" d="M841.63 729.89L841.63 735.24L851.66 735.24"/>
<path class="p" d="M845.65 679.07L846.98 683.08L873.73 686.43L875.07 685.09M841.63 685.76L855.01 683.75L865.71 685.09M839.63 693.78L845.65 691.11L856.34 693.78M864.37 705.82L868.38 707.15"/>
<path class="p" d="M836.29 692.44L836.29 688.43M877.74 676.4L878.41 687.1M883.76 676.4L884.16 688.43"/>
<path class="pb" d="M876.4 675.06C877.07 673.05 880.42 672.38 881.75 673.72"/>
<ellipse class="pbw" cx="851" cy="693.11" rx="4.01" ry="2.14"/>
<path class="pb" d="M846.98 693.11L846.98 697.79C848.32 699.8 853.67 699.8 855.01 697.79L855.01 693.11"/>
<path class="pbw" d="M822.91 701.81L833.61 697.79L846.98 700.47L851 704.48L841.63 709.83L825.59 708.49Z"/>
<path class="" d="M826.92 703.14L833.61 701.14L844.31 703.14L838.96 707.15L828.26 706.49Z" fill="#666" stroke="#1a1a1a" stroke-width="1.5"/>
<path class="pb" d="M825.59 708.49L825.59 717.85L832.27 720.53L832.27 729.89L839.63 733.9M822.91 713.84L822.91 729.89M825.59 717.85L822.91 719.19M826.92 719.19L826.92 727.21M828.93 720.53L828.93 727.88"/>
<path class="" d="M824.25 717.85L830.94 721.2L830.94 727.88L824.25 727.21Z" fill="url(#hv)" stroke="none"/>
<path class="pb" d="M822.24 760.65L838.96 747.27L841.63 754.63M838.96 747.27L839.63 733.9M836.29 745.94L836.29 753.96M842.97 745.94L845.65 745.94L845.65 749.95M846.98 751.29C860.36 749.95 873.73 747.27 881.75 741.92L892.45 736.58M846.98 753.29C860.36 751.95 873.73 749.28 883.09 743.93"/>
<path class="" d="M845.65 754.63L873.73 750.62" stroke="#444" stroke-width="2.6" stroke-dasharray="1.2 1.2" fill="none"/>
<path class="pb" d="M873.73 737.91L881.75 735.24L887.1 740.59M876.4 732.56L883.09 729.89M888.44 724.54L895.13 727.21L895.13 732.56M893.79 719.19L893.79 725.88M887.1 699.13L891.11 699.8"/>
<ellipse class="pb" cx="891.11" cy="733.9" rx="2.41" ry="2.14"/>
<ellipse class="k" cx="879.08" cy="739.25" rx="1.6" ry="1.34"/>
<path class="k" d="M888.44 697.79L892.45 699.13L891.78 703.14L889.11 702.47Z"/>
<ellipse class="k" cx="895.79" cy="701.14" rx="1.87" ry="1.6"/>
<path class="pbw" d="M834.28 774.02C836.29 770.01 841.63 768.67 845.65 768.67L848.99 768L851 770.68L846.98 772.68L847.65 778.03L844.31 779.37L838.96 778.03L834.28 776.03Z"/>
<path class="" d="M836.29 772.68C838.96 771.34 842.97 771.61 845.65 772.68L845.65 777.36L838.96 776.96Z" fill="#666" stroke="#1a1a1a" stroke-width="1.2"/>
<path class="k" d="M818.23 695.12L825.59 693.11L828.26 697.79L820.24 700.47ZM806.86 706.49L814.89 708.49L813.55 713.84L806.2 711.84ZM827.59 712.5L833.61 714.51L833.61 719.19L827.59 717.18Z"/>
<path class="" d="M798.84 700.47L820.24 693.11M800.85 703.14L818.9 696.46M780.12 700.47L796.17 705.15M784.13 695.12L793.49 699.13L792.82 695.12M814.89 688.43L818.9 695.12M833.61 689.77L841.63 695.12L846.98 695.12M820.24 713.84L825.59 717.85M809.54 713.84L814.89 719.19L820.24 717.85" stroke="#1a1a1a" stroke-width="2.2" fill="none" stroke-linecap="round"/>
<path class="" d="M771.43 703.81L820.24 717.85" stroke="#1a1a1a" stroke-width="2.6" fill="none"/>
<path class="pb" d="M841.63 675.73L845.65 679.07M857.68 679.74L855.01 683.75M875.07 685.09L885.1 688.43"/>
<ellipse class="k" cx="833.61" cy="695.12" rx="1.87" ry="1.34"/>
<ellipse class="k" cx="802.85" cy="699.13" rx="1.34" ry="1.07"/>
<ellipse class="k" cx="784.13" cy="697.79" rx="1.6" ry="1.34"/>
</g>
<g id="17_governor">
<path class="pbw" d="M932.82 667.4L936.58 663.8L940.67 666.58L941 672.3L936.58 674.75L932.82 672.63Z"/>
<path class="p" d="M932.82 667.4L937.07 669.36L940.67 666.58M937.07 669.36L936.58 674.75"/>
<path class="pbw" d="M979.08 679.66L981.53 676.88L986.43 677.21L983.98 680.15Z"/>
<ellipse class="k" cx="986.76" cy="679.99" rx="3.6" ry="3.06"/>
<ellipse cx="986.76" cy="679.53" rx="1.51" ry="1.16" fill="#888"/>
<path class="" d="M1008.01 702.54L1010.95 704.18C1010.13 711.53 1006.86 716.43 1004.41 719.7L979.08 738.01L975.32 732.78L964.86 738.01L963.55 741.28" stroke="#1a1a1a" stroke-width="2.2" fill="none" stroke-linejoin="round" stroke-linecap="round"/>
<path class="pbw" d="M1016.67 741.28L1020.76 739.32L1025.66 749.12L1028.93 755.66L1036.29 763.83L1037.92 767.92C1042.01 767.1 1044.46 770.37 1043.64 774.46C1042.01 779.36 1037.1 781 1034.65 777.73C1032.2 775.27 1031.38 772.01 1032.53 769.55L1028.93 763.83L1023.21 757.3L1019.12 749.12Z"/>
<ellipse class="pb" cx="1039.55" cy="773.64" rx="2.29" ry="2.94" transform="rotate(-30 1039.55 773.64)"/>
<path class="p" d="M1020.76 744.22L1026.48 755.66L1033.83 765.47"/>
<path class="pb" d="M1040.37 716.43C1042.01 714.47 1044.46 714.8 1046.09 718.07M1045.27 719.7L1052.63 736.86M1049.36 736.37C1051 741.77 1054.26 741.77 1055.08 738.5"/>
<path class="" d="M1045.27 724.61L1051 732.78" stroke="#1a1a1a" stroke-width="3.8" fill="none" stroke-dasharray="1.2 1"/>
<ellipse class="k" cx="1050.18" cy="759.26" rx="4.4" ry="3.8"/>
<ellipse cx="1050.18" cy="758.69" rx="1.85" ry="1.44" fill="#888"/>
<path class="pbw" d="M916.15 745.85C918.6 742.59 922.69 742.26 924.32 744.22L921.05 755.66L916.15 756.48L913.7 753.21Z"/>
<path class="pbw" d="M921.87 742.26L953.74 749.94L952.93 753.21L930.86 747.49Z"/>
<path class="" d="M943.94 747.82L953.74 750.27L953.09 752.72L943.61 750.27Z" fill="#555"/>
<ellipse class="k" cx="970.91" cy="755.99" rx="3.8" ry="3.6"/>
<ellipse cx="970.91" cy="755.45" rx="1.6" ry="1.37" fill="#888"/>
<ellipse class="k" cx="1006.05" cy="765.14" rx="4.4" ry="4.2"/>
<ellipse cx="1006.05" cy="764.51" rx="1.85" ry="1.6" fill="#888"/>
<ellipse class="" cx="1006.05" cy="765.14" rx="2.29" ry="2.12" fill="#ccc"/>
<path class="k" d="M1055.08 781L1060.8 775.27L1061.62 777.73L1057.53 782.63Z"/>
<path class="pb" d="M1056.72 776.91L1059.99 781.81"/>
<path class="pbw" d="M1025.66 791.62L1029.75 784.26L1032.53 785.9L1028.11 794.56Z"/>
<ellipse class="pb" cx="1022.72" cy="794.89" rx="3.27" ry="1.96" transform="rotate(-30 1022.72 794.89)"/>
<path class="pb" d="M1019.94 794.07L1027.3 797.34"/>
</g>
<g id="18_tank">
<path class="pbw" d="M1171.35 735.74C1171.35 728.97 1179.08 725.11 1187.77 725.11C1197.43 725.11 1204.19 728.97 1204.58 735.74L1205.16 743.46C1204.19 748.29 1194.53 750.61 1186.81 750.22C1178.11 749.84 1171.35 747.33 1170.97 742.5Z"/>
<path class="pb" d="M1171.35 735.74C1173.28 741.53 1202.26 741.53 1204.58 735.74"/>
<ellipse class="pb" cx="1187.77" cy="731.87" rx="11.98" ry="4.64"/>
<ellipse class="p" cx="1186.81" cy="731.49" rx="5.79" ry="2.12"/>
<path class="pb" d="M1175.22 739.6L1175.6 747.33M1181.98 741.14L1182.36 749.26M1189.7 741.34L1190.09 749.84M1196.85 740.18L1197.24 748.29M1201.87 738.25L1202.26 745.97"/>
<path class="" d="M1171.35 735.74C1171.35 728.97 1179.08 725.11 1187.77 725.11C1197.43 725.11 1204.19 728.97 1204.58 735.74" stroke="#1a1a1a" stroke-width="3" fill="none"/>
<path class="pbw" d="M1118.23 815.9C1118.23 808.17 1121.13 802.38 1130.79 798.9C1138.51 796.58 1144.31 795.62 1148.17 794.26L1160.73 777.27C1163.63 772.44 1169.42 769.54 1175.22 767.99L1200.33 775.72C1206.12 777.27 1209.99 781.13 1210.95 785.96L1210.37 808.17C1209.99 815.9 1208.05 818.8 1204.19 821.69L1175.22 845.84C1169.42 850.67 1163.63 852.99 1158.8 852.6L1136.58 847.77C1124.99 844.87 1119.2 841.01 1118.81 835.22Z"/>
<path class="pb" d="M1148.17 794.26C1159.76 790.79 1175.22 784.99 1186.81 781.13M1130.79 798.9C1136.58 808.17 1136.58 823.63 1136.2 847.77M1140.45 808.17C1144.31 804.31 1155.9 813.97 1163.63 813.97C1175.22 808.17 1194.53 792.72 1209.99 784.99M1163.63 813.97C1159.76 823.63 1158.8 839.08 1158.8 852.6M1118.81 817.83C1124.99 819.76 1130.79 820.73 1136.2 820.73M1137.55 821.69L1149.14 822.66"/>
<path class="pb" d="M1153.97 800.45L1175.22 787.89L1192.6 790.79L1167.49 810.1Z"/>
<path class="" d="M1155.9 800.83L1175.22 789.82L1188.74 791.75L1167.49 807.21Z" fill="url(#hd)" stroke="none" opacity="0.6"/>
<path class="pb" d="M1173.28 815.9L1163.63 848.74M1181.01 810.1L1173.28 843.91M1189.7 804.31L1181.98 838.11M1200.33 796.58L1194.53 827.49M1206.12 790.79L1204.19 821.69"/>
<path class="pb" d="M1150.1 790.79L1157.83 784.99L1160.73 786.54L1153 792.33Z"/>
<path class="p" d="M1160.73 777.27C1161.69 773.4 1165.56 770.51 1171.35 769.15"/>
<path class="" d="M1173.28 763.74L1173.67 774.37C1175.22 779.2 1198.4 779.2 1200.33 774.37L1200.33 763.74Z" fill="url(#hv)" stroke="#1a1a1a" stroke-width="1.6"/>
<ellipse class="pbw" cx="1186.81" cy="763.74" rx="13.52" ry="7.73" stroke-width="2.4"/>
<path class="pb" d="M1175.22 775.72C1179.08 781.13 1194.53 781.13 1199.36 776.3"/>
<path class="pbw" d="M1141.41 849.7L1140.45 860.33C1141.41 863.22 1146.24 863.22 1147.21 860.33L1148.17 851.63"/>
<path class="" d="M1139.48 870.37L1131.17 885.82" stroke="#1a1a1a" stroke-width="3.6" fill="none" stroke-dasharray="1.3 1"/>
<ellipse class="pb" cx="1130.79" cy="885.82" rx="1.93" ry="1.35"/>
<ellipse class="pb" cx="1124.99" cy="893.74" rx="5.02" ry="2.7"/>
<path class="pb" d="M1117.27 891.23L1122.1 893.16L1117.27 896.06"/>
<ellipse class="pb" cx="1090.61" cy="938.75" rx="5.02" ry="2.51"/>
<path class="pb" d="M1083.46 936.05L1087.9 938.17L1083.46 941.07"/>
<path class="pbw" d="M1120.16 901.86L1127.89 903.21C1125.96 912.48 1121.13 920.21 1115.33 925.04L1103.74 934.7C1099.88 937.59 1096.02 933.73 1097.95 930.83L1107.61 922.14C1114.37 916.34 1118.23 909.58 1120.16 901.86Z"/>
<ellipse class="pb" cx="1101.23" cy="931.8" rx="3.28" ry="4.25" transform="rotate(40 1101.23 931.8)"/>
</g>
<g id="19_crank">
<path class="pbw" d="M819.51 808.05C819.51 805.38 830.21 805.38 830.21 808.05L830.88 816.75L832.88 822.1L833.55 839.48L834.89 840.82C840.24 838.14 845.59 840.82 846.92 846.17L846.26 852.18C842.91 850.18 838.9 850.18 834.89 852.85L832.88 856.86C838.9 856.2 844.25 859.54 845.59 864.89L845.32 871.58L840.24 870.24L834.89 872.91L834.22 876.92L833.55 903.67L832.88 933.76C832.21 937.1 817.5 937.1 817.24 933.76L816.84 903.67L816.17 876.92L808.14 872.24L807.47 868.9L811.49 859.54L806.81 858.87L810.15 852.85L813.49 848.84L815.5 846.17L813.49 842.82L814.83 839.48L818.84 838.81L818.84 822.1L819.91 816.75Z"/>
<ellipse class="pb" cx="824.86" cy="808.05" rx="5.35" ry="1.87"/>
<path class="pb" d="M819.91 816.75C821.52 818.75 829.54 818.75 830.88 816.75M818.84 822.1C821.52 824.5 830.88 824.5 832.88 822.1M818.84 830.12C821.52 832.53 830.88 832.53 833.55 830.12"/>
<path class="" d="M819.11 822.76L819.11 830.12M820.45 823.43L820.45 830.79" stroke="#666" stroke-width="2.4" fill="none"/>
<path class="pb" d="M814.83 839.48C817.5 836.81 832.21 836.81 834.89 840.82C832.88 844.83 817.5 846.17 813.49 842.82M815.5 846.17C820.18 848.84 829.54 848.84 833.55 846.17"/>
<path class="pbw" d="M833.28 839.75C838.9 837.47 845.59 840.15 847.19 845.5L846.66 851.78C843.58 849.91 838.9 850.18 834.89 852.59C837.56 848.84 836.89 843.49 833.28 839.75Z"/>
<path class="pbw" d="M832.88 857.53C838.9 856.2 844.52 859.54 845.85 864.89L845.59 871.84C842.91 869.97 838.9 870.24 835.16 872.64C838.23 868.23 837.56 861.55 832.88 857.53Z"/>
<path class="p" d="M840.24 840.82C842.24 843.49 842.64 847.5 841.58 850.45M839.57 859.54C841.84 862.88 842.24 867.56 840.91 870.91"/>
<path class="pb" d="M813.49 848.84L818.84 851.52L816.17 859.54L811.49 859.54M818.84 851.52L826.86 852.85L824.19 862.21L816.17 859.54M826.86 852.85L832.88 856.86M824.19 862.21L832.21 864.89M812.15 864.89L824.19 870.24L834.89 867.56M808.14 872.24C816.17 876.92 829.54 876.92 834.22 872.91M807.47 868.9C816.17 873.58 829.54 873.58 834.89 869.57"/>
<path class="pb" d="M816.17 876.92C820.18 879.6 829.54 879.6 834.22 876.92M816.84 903.67C820.18 906.08 829.54 906.08 833.55 903.67M817.5 906.34C820.85 908.35 829.54 908.35 833.15 906.34"/>
<path class="" d="M818.84 910.36L819.11 933.09M820.45 911.03L820.71 933.76" stroke="#666" stroke-width="2.2" fill="none"/>
<path class="" d="M831.55 907.68L831.14 933.09" stroke="#999" stroke-width="2" fill="none"/>
<ellipse class="k" cx="876.08" cy="842.15" rx="22.33" ry="11.23"/>
<path class="" d="M854.01 842.42C854.95 852.85 866.98 853.66 876.08 853.66C885.71 853.66 897.47 852.59 898.41 842.42" stroke="#777" stroke-width="2.4" stroke-dasharray="0.9 1.1" fill="none"/>
<ellipse class="w" cx="876.08" cy="839.75" rx="19.52" ry="8.29"/>
<ellipse class="pb" cx="876.08" cy="840.01" rx="19.52" ry="8.29"/>
<path class="" d="M861.63 836.81C865.65 834.13 871 834.8 873.67 838.14L869.66 843.49L862.97 842.15ZM880.36 836.81C885.71 835.47 891.05 836.81 892.39 840.82L885.71 844.83L879.02 843.49ZM866.98 844.83L875.01 843.49L880.36 847.5L872.33 848.84Z" fill="#444" stroke="#1a1a1a" stroke-width="1.2"/>
<path class="pb" d="M873.67 832.79L873.4 816.75M879.69 832.79L879.96 816.75"/>
<path class="pbw" d="M870.33 831.46C871 835.47 881.69 835.47 882.36 831.46C881.69 828.78 871 828.78 870.33 831.46Z"/>
<path class="pbw" d="M873.67 834.13L873.94 818.75C875.01 820.09 879.02 820.09 879.96 818.75L879.69 834.13Z"/>
<path class="pbw" d="M869.66 810.06C870.33 813.4 885.04 814.07 885.71 811.4L885.71 814.74C884.37 818.08 871 818.08 869.93 814.74Z"/>
<path class="pbw" d="M871.26 801.37C871.66 798.69 879.69 798.69 880.36 801.37L880.62 810.06C879.02 812.07 872.33 812.07 871 810.06Z"/>
<ellipse class="pb" cx="875.81" cy="801.37" rx="4.55" ry="1.6"/>
<path class="pb" d="M869.66 810.06C871 808.05 871.66 808.05 871.26 807.38M885.71 811.4C884.37 810.06 881.69 809.79 880.62 809.79"/>
<ellipse class="k" cx="846.92" cy="886.55" rx="4.01" ry="3.48"/>
<ellipse class="" cx="846.66" cy="885.48" rx="1.74" ry="1.07" fill="#999"/>
<path class="" d="M845.05 888.96L845.32 896.98C845.85 898.59 848.26 898.59 848.8 896.98L848.8 888.96Z" fill="#555" stroke="#1a1a1a" stroke-width="1.2"/>
<path class="" d="M843.18 904.34L877.41 904.34L877.41 950.48L843.18 950.48Z" stroke="#1a1a1a" stroke-width="1.7" stroke-dasharray="5 3" fill="none"/>
<path class="" d="M843.98 907.68L846.92 906.34L862.97 911.03L862.3 913.7L845.59 910.36Z" fill="#777" stroke="#1a1a1a" stroke-width="1.5"/>
<path class="k" d="M853.61 920.39L856.29 918.38L859.63 921.72L862.97 919.05L866.98 921.05L868.99 925.07L873.67 926.4L875.01 931.75L876.34 937.1L873.67 942.45L871 946.46L865.65 947.8L860.3 947.13L856.29 943.79L852.27 941.11L849.6 934.43L847.59 929.08L850.27 925.07Z"/>
<path class="" d="M862.97 935.77L868.32 935.5L868.59 938.44L863.64 938.71Z" fill="#eee"/>
<path class="" d="M857.62 925.07L861.63 926.4M858.96 930.42L858.29 935.77" stroke="#aaa" stroke-width="1.2" fill="none"/>
<path class="" d="M813.49 950.48C813.49 943.79 836.89 943.79 836.89 950.48L836.49 957.83C834.89 964.52 814.83 964.52 813.76 957.83Z" fill="url(#hv)" stroke="#1a1a1a" stroke-width="1.7"/>
<ellipse class="pbw" cx="825.13" cy="950.07" rx="11.77" ry="4.81"/>
<ellipse class="pb" cx="825.13" cy="950.48" rx="8.83" ry="3.21"/>
<path class="pb" d="M816.84 952.08C818.84 955.16 832.21 955.16 833.82 951.81"/>
</g>
<g id="20_piston">
<ellipse class="pb" cx="761.96" cy="840.46" rx="3.74" ry="1.34"/>
<path class="" d="M759.02 840.06L765.04 840.06" stroke="#444" stroke-width="2" fill="none"/>
<path class="pbw" d="M757.41 845.41L757.41 869.48C758.35 871.49 765.04 871.49 765.71 869.48L765.71 845.41Z"/>
<ellipse class="pb" cx="761.56" cy="845.41" rx="4.15" ry="1.07"/>
<path class="" d="M759.69 846.75L759.69 869.48" stroke="#999" stroke-width="1.6" fill="none"/>
<path class="pbw" d="M753.64 908.43C754.2 904.53 756.98 901.75 761.44 901.19L771.47 893.95L767.01 891.72L768.13 887.26L773.7 885.59L778.16 882.8L787.07 882.8L793.76 885.59L798.22 890.6L798.77 895.62L793.76 900.63L787.07 901.75L778.16 903.97L767.01 914C762.56 916.23 755.87 915.12 753.86 912.89Z" stroke-width="2.2"/>
<path class="" d="M756.98 908.43C759.77 906.76 763.67 907.32 765.9 909.55M761.44 901.19L765.9 903.97L778.16 895.06L787.07 893.95L794.87 889.49M771.47 893.95L778.16 895.06M765.9 903.97L767.01 914M768.13 887.26L771.47 889.49L771.47 893.95M773.7 885.59L778.16 888.37L787.07 887.26L793.76 885.59M778.16 888.37L778.16 895.06M787.07 887.26L787.07 893.95M765.9 906.2L778.16 898.96L788.19 897.29M787.07 901.75L788.19 897.29L797.1 892.83" stroke="#1a1a1a" stroke-width="1.8" fill="none" stroke-linejoin="round"/>
<path class="p" d="M753.86 910.66C756.98 913.45 763.67 914 767.01 911.22"/>
<ellipse class="k" cx="769.8" cy="889.49" rx="1.56" ry="1.78"/>
<ellipse class="k" cx="788.74" cy="895.62" rx="1.11" ry="1"/>
<ellipse class="k" cx="795.99" cy="891.72" rx="1" ry="1.34"/>
<ellipse class="pb" cx="781.5" cy="885.59" rx="1.34" ry="0.89"/>
<path class="pbw" d="M719.09 906.76C728.01 905.65 739.15 909.55 745.84 915.12C750.85 919.58 751.41 925.15 749.18 930.72C745.84 937.41 739.15 941.86 732.47 944.65C725.78 946.88 716.86 944.09 711.29 938.52C705.72 930.72 704.61 921.81 707.95 915.12C710.74 909.55 714.64 907.32 719.09 906.76Z"/>
<ellipse class="k" cx="727.34" cy="923.37" rx="16.72" ry="19.17" transform="rotate(14 727.34 923.37)"/>
<path class="" d="M728.01 908.43C735.81 911.78 741.38 918.46 743.05 925.15C743.61 932.95 740.27 938.52 735.81 941.86" stroke="#aaa" stroke-width="0.9" fill="none" stroke-dasharray="1.6 1.2"/>
<ellipse class="pbw" cx="722.66" cy="926.49" rx="16.27" ry="18.95" transform="rotate(14 722.66 926.49)" stroke-width="1.8"/>
<path class="p" d="M739.15 912.89C745.84 916.23 749.74 921.81 748.63 928.49C747.51 934.06 743.61 938.52 739.15 941.31"/>
<path class="" d="M656.69 937.41L668.95 928.49L682.32 921.81L696.81 922.92L705.72 930.72L712.96 946.32L712.41 955.24L703.49 966.38L690.12 974.18L676.75 974.74L664.49 969.73L657.24 960.81Z" stroke="#333" stroke-width="1.5" stroke-dasharray="6 3.5" fill="none"/>
<path class="pbw" d="M664.49 941.86C666.72 934.06 676.75 927.38 686.78 926.82L694.58 927.38C686.78 929.61 678.97 937.41 677.86 948.55C677.3 957.47 682.32 965.27 689 968.61L682.32 970.84C672.29 969.73 663.37 959.7 662.82 950.78Z"/>
<ellipse class="" cx="691.46" cy="947.99" rx="13.37" ry="20.28" transform="rotate(-14 691.46 947.99)" stroke="#1a1a1a" stroke-width="3.6" fill="#fff"/>
<ellipse class="" cx="693.24" cy="947.99" rx="10.7" ry="17.38" transform="rotate(-14 693.24 947.99)" stroke="#1a1a1a" stroke-width="1.6" fill="none"/>
<ellipse class="" cx="683.43" cy="949.11" rx="12.04" ry="19.17" transform="rotate(-14 683.43 949.11)" stroke="#1a1a1a" stroke-width="2.4" fill="none"/>
<ellipse class="pb" cx="676.19" cy="950.78" rx="11.14" ry="17.83" transform="rotate(-14 676.19 950.78)"/>
<ellipse class="p" cx="670.06" cy="951.89" rx="9.81" ry="16.49" transform="rotate(-14 670.06 951.89)"/>
<path class="pb" d="M686.78 926.82L671.17 935.18M689 968.61L675.63 969.5M696.25 947.44L702.38 946.88M696.81 951.89L702.93 951.89"/>
<ellipse class="pb" cx="761.96" cy="939.42" rx="4.01" ry="1.47"/>
<path class="" d="M758.75 939.02L765.44 939.02" stroke="#333" stroke-width="2.2" fill="none"/>
</g>
<g id="21_sump">
<ellipse class="pbw" cx="823.41" cy="973.03" rx="10.4" ry="4.16" stroke-width="2.2"/>
<ellipse class="pb" cx="823.41" cy="973.03" rx="7.43" ry="2.53"/>
<ellipse class="k" cx="824.9" cy="988.93" rx="12.18" ry="6.54"/>
<path class="pb" d="M812.71 989.38C813.01 996.06 821.18 997.25 824.9 997.25C830.1 997.25 836.78 995.32 837.08 989.38"/>
<ellipse class="" cx="824.15" cy="988.93" rx="6.69" ry="2.53" fill="#999"/>
<ellipse class="" cx="824.15" cy="989.52" rx="3.27" ry="1.04" fill="#eee"/>
<path class="" d="M813.01 992.35C815.24 997.25 834.55 997.25 837.08 992.35" stroke="#1a1a1a" stroke-width="2.4" fill="none"/>
<ellipse class="pbw" cx="844.96" cy="990.86" rx="1.78" ry="2.97"/>
<ellipse class="pbw" cx="777.35" cy="1010.18" rx="2.08" ry="2.97"/>
<path class="pbw" d="M757.29 1046.58C758.77 1039.15 764.72 1033.21 772.15 1028.75C784.03 1021.32 797.41 1015.38 807.81 1011.66L812.27 1008.69L824.15 1005.27L831.58 1004.23L861.3 1012.41L868.73 1013.15L891.02 1022.07L898.45 1024.29L899.64 1028.75L897.7 1033.95L891.76 1039.15L890.27 1052.53L883.59 1058.47L868.73 1066.64L844.96 1074.81L841.98 1078.53L824.15 1076.3C809.29 1074.81 791.46 1070.36 779.58 1065.9L763.23 1059.96L759.52 1054.01Z"/>
<path class="pb" d="M760.26 1052.53C772.15 1059.96 801.86 1068.87 830.1 1070.36C853.87 1067.38 876.16 1056.98 889.53 1046.58"/>
<path class="" d="M761 1054.75C773.63 1062.93 801.86 1071.1 830.1 1072.59" stroke="#333" stroke-width="2.4" stroke-dasharray="1.2 1.1" fill="none"/>
<path class="" d="M844.96 1072.59C861.3 1068.87 877.64 1061.44 889.53 1052.53" stroke="#333" stroke-width="2.2" stroke-dasharray="1.2 1.1" fill="none"/>
<path class="pb" d="M807.81 1011.66L804.84 1015.38L792.95 1019.84L785.52 1036.18L784.03 1040.64L812.27 1046.58L837.53 1052.53C853.87 1052.53 868.73 1046.58 877.64 1040.64L891.02 1033.21L892.5 1024.29M812.27 1008.69L815.24 1012.41L815.98 1024.29M831.58 1004.23L830.1 1009.44L830.1 1021.32M830.1 1009.44L858.33 1018.35L889.53 1025.78M824.15 1005.27L824.15 1009.44"/>
<path class="" d="M831.58 1006.46L859.81 1014.64L890.27 1023.55" stroke="#333" stroke-width="2.2" stroke-dasharray="1.4 1.2" fill="none"/>
<path class="pb" d="M788.49 1022.81L784.03 1039.15M794.44 1021.32L789.98 1037.67M800.38 1018.35L797.41 1033.21L809.29 1039.15M784.03 1040.64L786.26 1036.92L812.27 1042.87L836.04 1048.81"/>
<path class="" d="M785.52 1039.15L812.27 1045.1L837.53 1051.04" stroke="#333" stroke-width="2.6" stroke-dasharray="1.4 1.2" fill="none"/>
<path class="pbw" d="M813.01 1030.24L813.01 1040.64C815.24 1046.58 833.07 1046.58 834.55 1040.64L834.55 1030.24"/>
<ellipse class="pbw" cx="823.86" cy="1029.49" rx="10.85" ry="4.9"/>
<ellipse class="pb" cx="823.86" cy="1030.24" rx="7.13" ry="2.97"/>
<path class="pb" d="M815.98 1012.41L815.98 1024.29M830.1 1012.41L830.1 1024.29"/>
<path class="" d="M784.03 1049.55L778.09 1056.98" stroke="#1a1a1a" stroke-width="3.6" fill="none" stroke-linecap="round"/>
<path class="" d="M784.03 1050.74L778.09 1055.79" stroke="#bbb" stroke-width="1.1" fill="none"/>
<path class="" d="M794.44 1053.27L789.23 1061.44" stroke="#1a1a1a" stroke-width="3.6" fill="none" stroke-linecap="round"/>
<path class="" d="M794.44 1054.46L789.23 1060.25" stroke="#bbb" stroke-width="1.1" fill="none"/>
<path class="" d="M805.58 1056.24L802.61 1065.16" stroke="#1a1a1a" stroke-width="3.6" fill="none" stroke-linecap="round"/>
<path class="" d="M805.58 1057.43L802.61 1063.97" stroke="#bbb" stroke-width="1.1" fill="none"/>
<path class="" d="M818.21 1057.73L816.72 1066.64" stroke="#1a1a1a" stroke-width="3.6" fill="none" stroke-linecap="round"/>
<path class="" d="M818.21 1058.92L816.72 1065.45" stroke="#bbb" stroke-width="1.1" fill="none"/>
<path class="pb" d="M766.95 1033.21L775.12 1030.24M766.2 1042.12L774.38 1037.67L775.12 1042.12L767.69 1045.1ZM764.72 1047.33L779.58 1048.07L770.66 1054.01"/>
<path class="k" d="M766.95 1041.38L773.93 1037.96L774.52 1041.83L767.99 1044.5Z"/>
<ellipse class="k" cx="783.29" cy="1039.6" rx="1.49" ry="1.19"/>
<ellipse class="pb" cx="766.2" cy="1047.33" rx="1.78" ry="1.04"/>
<path class="" d="M837.53 1025.78L837.53 1046.58M839.75 1039.15L839.75 1048.07M841.98 1037.67L841.98 1048.07M844.21 1039.15L844.21 1048.81" stroke="#1a1a1a" stroke-width="1.8" fill="none"/>
<path class="pbw" d="M846.44 1036.18L846.44 1049.55C847.93 1051.78 852.38 1051.78 853.87 1049.55L853.87 1036.18C852.38 1033.95 847.93 1033.95 846.44 1036.18Z"/>
<path class="pbw" d="M856.84 1040.64L856.84 1049.55L861.3 1048.81L861.3 1039.9Z"/>
<path class="pbw" d="M867.24 1028.75L867.24 1039.15C867.99 1040.64 870.96 1040.64 871.7 1039.15L871.7 1028.75C870.96 1026.97 867.99 1026.97 867.24 1028.75Z"/>
<path class="" d="M856.84 1015.38L856.84 1024.29M861.3 1016.12L862.04 1025.04" stroke="#666" stroke-width="2.2" fill="none"/>
<path class="pb" d="M874.67 1033.21L877.64 1039.15M880.62 1030.24L881.36 1037.67M883.59 1037.67L891.02 1039.15L890.27 1052.53L883.59 1054.01ZM877.64 1045.1L883.59 1046.58L883.59 1056.98M885.07 1040.64L885.07 1048.07L888.79 1047.33L888.79 1040.64"/>
<path class="pb" d="M892.5 1024.29C896.96 1024.29 899.19 1027.27 897.7 1030.98C896.22 1033.21 893.25 1033.21 891.76 1031.72"/>
<path class="pbw" d="M832.33 1065.16L832.33 1071.84C833.81 1075.56 841.24 1075.56 843.17 1071.84L843.17 1065.16"/>
<ellipse class="pbw" cx="837.67" cy="1064.71" rx="5.5" ry="2.67"/>
<ellipse class="k" cx="837.67" cy="1064.71" rx="2.38" ry="1.19"/>
<ellipse class="pbw" cx="838.57" cy="1056.24" rx="2.97" ry="2.08"/>
<path class="pb" d="M835.59 1056.24L836.04 1060.7M841.54 1056.24L841.24 1060.7"/>
<g transform="translate(803.35 1109.14) rotate(-180)"><path class="pw" d="M-1.9 0V15.34 Q0 17.34 1.9 15.34V0Z"/><path class="k" d="M-3.22 -3.25 L3.22 -3.25 L4.6 0 L5.29 3.25 L-5.29 3.25 L-4.6 0Z"/><ellipse class="w" cx="0" cy="-0.78" rx="1.93" ry="1.3" opacity="0.55"/></g>
<g transform="translate(828.61 1098.74) rotate(-180)"><path class="pw" d="M-1.9 0V15.34 Q0 17.34 1.9 15.34V0Z"/><path class="k" d="M-3.22 -3.25 L3.22 -3.25 L4.6 0 L5.29 3.25 L-5.29 3.25 L-4.6 0Z"/><ellipse class="w" cx="0" cy="-0.78" rx="1.93" ry="1.3" opacity="0.55"/></g>
<g transform="translate(862.49 1106.91) rotate(-180)"><path class="pw" d="M-1.9 0V14.59 Q0 16.59 1.9 14.59V0Z"/><path class="k" d="M-3.22 -3.25 L3.22 -3.25 L4.6 0 L5.29 3.25 L-5.29 3.25 L-4.6 0Z"/><ellipse class="w" cx="0" cy="-0.78" rx="1.93" ry="1.3" opacity="0.55"/></g>
<g transform="translate(894.29 1118.05) rotate(-180)"><path class="pw" d="M-1.9 0V14.59 Q0 16.59 1.9 14.59V0Z"/><path class="k" d="M-3.22 -3.25 L3.22 -3.25 L4.6 0 L5.29 3.25 L-5.29 3.25 L-4.6 0Z"/><ellipse class="w" cx="0" cy="-0.78" rx="1.93" ry="1.3" opacity="0.55"/></g>
<g transform="translate(785.82 1131.43) rotate(-180)"><path class="pw" d="M-1.9 0V15.34 Q0 17.34 1.9 15.34V0Z"/><path class="k" d="M-3.22 -3.25 L3.22 -3.25 L4.6 0 L5.29 3.25 L-5.29 3.25 L-4.6 0Z"/><ellipse class="w" cx="0" cy="-0.78" rx="1.93" ry="1.3" opacity="0.55"/></g>
<g transform="translate(837.82 1145.54) rotate(-180)"><path class="pw" d="M-1.9 0V14.59 Q0 16.59 1.9 14.59V0Z"/><path class="k" d="M-3.22 -3.25 L3.22 -3.25 L4.6 0 L5.29 3.25 L-5.29 3.25 L-4.6 0Z"/><ellipse class="w" cx="0" cy="-0.78" rx="1.93" ry="1.3" opacity="0.55"/></g>
<g transform="translate(878.39 1138.11) rotate(-180)"><path class="pw" d="M-1.9 0V15.34 Q0 17.34 1.9 15.34V0Z"/><path class="k" d="M-3.22 -3.25 L3.22 -3.25 L4.6 0 L5.29 3.25 L-5.29 3.25 L-4.6 0Z"/><ellipse class="w" cx="0" cy="-0.78" rx="1.93" ry="1.3" opacity="0.55"/></g>
</g>
<g id="22_gasket">
<path class="pbw" d="M536.75 1028.49C538.23 1025.52 541.95 1025.22 544.92 1027.01C548.63 1025.52 554.58 1026.26 557.55 1029.23L561.26 1034.44L569.44 1035.92C573.15 1033.69 576.12 1035.18 576.86 1038.15L586.52 1048.55L587.27 1077.53L583.55 1084.96L579.84 1087.18L572.41 1085.7L567.21 1081.98L547.15 1074.55L539.72 1076.04C536 1074.55 534.52 1071.58 536 1068.61L533.77 1049.29Z"/>
<path class="p" d="M538.53 1030.27C539.72 1027.75 541.95 1027.3 544.47 1028.79C548.63 1027.3 553.39 1028.19 555.77 1030.72L559.78 1036.22L569.14 1038C572.11 1035.92 574.19 1037.11 574.93 1039.49L584 1049.29L584.74 1076.78L581.62 1083.17L579.09 1084.96L573 1083.77L568.25 1079.9L547.89 1072.47L540.91 1073.81C538.23 1072.77 537.04 1070.84 538.23 1068.61L535.85 1049.29Z"/>
<ellipse class="pb" cx="553.83" cy="1055.98" rx="17.09" ry="19.02" transform="rotate(-12 553.83 1055.98)"/>
<ellipse class="pb" cx="541.65" cy="1031.17" rx="1.93" ry="1.93"/>
<ellipse class="pb" cx="572.11" cy="1039.64" rx="1.93" ry="1.93"/>
<ellipse class="pb" cx="539.27" cy="1070.84" rx="1.93" ry="1.93"/>
<ellipse class="pb" cx="572.11" cy="1080.94" rx="1.93" ry="1.93"/>
<ellipse class="pb" cx="579.54" cy="1082.28" rx="1.34" ry="1.49"/>
<path class="pb" d="M548.93 1030.72C549.38 1029.23 554.58 1030.27 555.32 1032.21C554.58 1033.69 549.82 1032.65 548.93 1030.72Z"/>
<path class="pb" d="M569.44 1044.84L575.38 1044.84L583.55 1052.27L583.85 1073.07L579.84 1079.01L573.89 1077.53L571.66 1073.07L575.38 1067.12L575.38 1055.24Z"/>
<path class="" d="M590.24 1044.09L639.27 1011.4" stroke="#1a1a1a" stroke-width="3.4" fill="none" stroke-linecap="round"/>
<path class="" d="M591.13 1043.5L638.68 1011.85" stroke="#fff" stroke-width="1" fill="none"/>
<path class="" d="M590.24 1061.18L639.27 1029.98" stroke="#1a1a1a" stroke-width="3.4" fill="none" stroke-linecap="round"/>
<path class="" d="M591.13 1060.59L638.68 1030.42" stroke="#fff" stroke-width="1" fill="none"/>
<path class="" d="M656.36 1001.3L649.23 1005.76" stroke="#1a1a1a" stroke-width="3.6" fill="none" stroke-linecap="round"/>
<path class="" d="M656.06 1001.45L651.9 1004.12" stroke="#fff" stroke-width="1.4" fill="none"/>
<ellipse class="pbw" cx="659.33" cy="999.52" rx="5.35" ry="5.05" stroke-width="2.2"/>
<ellipse class="pb" cx="658.44" cy="1000.11" rx="2.53" ry="2.53"/>
<path class="" d="M656.36 1019.87L649.23 1024.33" stroke="#1a1a1a" stroke-width="3.6" fill="none" stroke-linecap="round"/>
<path class="" d="M656.06 1020.02L651.9 1022.7" stroke="#fff" stroke-width="1.4" fill="none"/>
<ellipse class="pbw" cx="659.33" cy="1018.09" rx="5.35" ry="5.05" stroke-width="2.2"/>
<ellipse class="pb" cx="658.44" cy="1018.68" rx="2.53" ry="2.53"/>
</g>
<g id="23_head11">
<path class="pbw" d="M452.88 1065.44L463.58 1068.11L464.92 1074.13L454.89 1071.46Z"/>
<path class="pbw" d="M452.88 1102.88L454.89 1100.88L465.59 1104.89L464.92 1110.24L454.22 1108.23Z"/>
<path class="pbw" d="M459.57 1086.17C460.24 1082.15 466.92 1080.82 472.27 1083.49L473.61 1102.21C469.6 1104.89 461.58 1102.21 459.57 1096.86Z"/>
<ellipse class="pb" cx="464.25" cy="1090.85" rx="4.01" ry="6.69" transform="rotate(-10 464.25 1090.85)"/>
<ellipse class="pb" cx="468.93" cy="1092.85" rx="2.94" ry="6.02" transform="rotate(-10 468.93 1092.85)"/>
<path class="pb" d="M465.59 1067.44L472.27 1068.78L473.61 1083.49M465.59 1074.13L465.59 1082.15M465.59 1104.89L473.61 1107.56L473.61 1102.21M463.58 1110.24L468.26 1112.91"/>
<path class="pbw" d="M470.94 1062.1C472.27 1056.08 476.95 1052.07 481.63 1051.4L526.43 1063.43C531.11 1065.44 533.52 1068.78 533.79 1074.13L533.79 1098.2L535.79 1099.54L533.79 1104.89L533.12 1112.91C531.11 1120.94 524.43 1126.29 517.74 1130.3L517.07 1132.97L511.72 1133.64L510.39 1130.97L477.62 1118.26L475.62 1115.59L475.62 1074.13L470.94 1070.12Z"/>
<path class="pb" d="M481.63 1051.4C477.62 1053.4 473.61 1056.75 472.27 1062.1M484.31 1052.73L525.77 1065.04C529.78 1066.78 531.78 1070.12 532.18 1074.8L532.18 1096.86M486.98 1054.74L524.43 1066.78C527.77 1068.78 529.78 1071.46 530.04 1075.47L530.04 1092.85M489.66 1056.75L523.09 1068.78C525.77 1070.12 527.77 1072.79 527.77 1076.81L527.77 1091.52M521.75 1071.46C524.16 1072.79 525.5 1074.8 525.5 1078.14L525.5 1092.85"/>
<path class="" d="M519.08 1074.13L519.08 1123.61" stroke="#1a1a1a" stroke-width="3" fill="none"/>
<path class="" d="M521.75 1080.82L521.75 1099.54M523.76 1081.49L523.76 1096.86M526.03 1080.82L526.03 1094.19M528.44 1080.82L528.44 1092.85M530.45 1080.82L530.45 1092.85" stroke="#333" stroke-width="2" fill="none"/>
<path class="pb" d="M475.62 1074.13C476.29 1070.12 478.96 1068.78 481.63 1069.45L515.07 1079.48C517.74 1080.82 519.08 1083.49 519.08 1086.17L519.08 1123.61L517.74 1130.3M477.62 1075.47L478.29 1114.25L511.72 1128.96L515.74 1123.61L516.14 1086.17L514.4 1082.42L481.63 1072.53Z"/>
<path class="p" d="M479.63 1076.81L480.03 1112.91L511.05 1126.29L513.73 1122.27L514.13 1087.5L513.06 1084.16L482.3 1074.8Z"/>
<ellipse class="pbw" cx="482.3" cy="1063.43" rx="4.81" ry="4.81" stroke-width="2.4"/>
<ellipse class="pb" cx="482.3" cy="1063.43" rx="2.14" ry="2.14"/>
<ellipse class="pbw" cx="510.39" cy="1114.92" rx="4.55" ry="4.81" stroke-width="2.4"/>
<ellipse class="pb" cx="510.39" cy="1114.92" rx="2.01" ry="2.14"/>
<path class="" d="M482.97 1080.82L492.33 1076.81L500.36 1079.48L504.37 1086.17L497.68 1092.85L486.98 1090.18Z" fill="#333" stroke="#1a1a1a" stroke-width="1.5"/>
<path class="" d="M484.98 1082.82L497.68 1078.81M485.65 1085.5L500.36 1081.49M486.98 1088.17L502.36 1084.16" stroke="#bbb" stroke-width="0.9" fill="none"/>
<path class="" d="M482.97 1092.85L486.98 1090.18L497.68 1092.85L504.37 1086.17L505.71 1092.85L500.36 1096.86L484.31 1096.86ZM495.01 1108.9L505.71 1102.21L512.39 1104.89L512.39 1110.24L500.36 1116.92L496.34 1115.59Z" fill="#444" stroke="none"/>
<path class="" d="M484.31 1096.86C486.98 1092.85 497.68 1092.85 501.69 1096.86C504.37 1102.21 500.36 1107.56 493.67 1108.23C486.98 1107.56 482.97 1102.21 484.31 1096.86Z" fill="#777" stroke="#1a1a1a" stroke-width="1.8"/>
<ellipse class="pbw" cx="493" cy="1100.88" rx="4.81" ry="3.48"/>
<path class="pbw" d="M492.33 1086.17L503.03 1078.81L505.04 1081.49L495.01 1088.84ZM493.67 1107.56L505.71 1099.54L507.71 1102.88L496.34 1110.24ZM497.68 1114.25L511.05 1105.56L512.39 1108.9L500.36 1116.92Z"/>
<path class="pb" d="M481.63 1110.24L486.98 1104.89M485.65 1115.59L493.67 1110.24M495.01 1122.27L504.37 1115.59M500.36 1123.61L508.38 1118.26M504.37 1092.85L513.73 1088.84M504.37 1094.19L513.06 1099.54"/>
<path class="pb" d="M513.73 1088.84L513.73 1122.27"/>
<path class="k" d="M521.75 1099.54L528.44 1096.86L533.79 1098.2L535.79 1099.54L533.79 1104.89L529.78 1110.24L523.76 1108.9L521.08 1104.89Z"/>
<path class="" d="M526.43 1099.54L531.11 1100.21L532.45 1103.55L529.11 1107.56L525.77 1106.23Z" fill="#fff"/>
<path class="pb" d="M520.42 1110.24L520.42 1120.94M523.76 1110.24L523.76 1118.93M527.1 1110.91L527.1 1116.92M530.45 1110.24L530.45 1115.59"/>
<ellipse class="k" cx="512.39" cy="1131.63" rx="1.87" ry="1.6"/>
<ellipse class="k" cx="478.69" cy="1117.59" rx="1.6" ry="1.34"/>
<path class="pbw" d="M433.89 1095.53L448.6 1085.5L450.48 1088.57L436.17 1098.47Z"/>
<ellipse class="pbw" cx="431.49" cy="1099.54" rx="5.08" ry="4.81" stroke-width="2.4"/>
<ellipse class="pb" cx="430.95" cy="1100.07" rx="3.21" ry="3.21"/>
<ellipse class="p" cx="430.68" cy="1100.34" rx="1.6" ry="1.6"/>
<path class="pbw" d="M431.22 1127.62L445.93 1117.59L447.8 1120.67L433.49 1130.56Z"/>
<ellipse class="pbw" cx="428.81" cy="1131.63" rx="5.08" ry="4.81" stroke-width="2.4"/>
<ellipse class="pb" cx="428.28" cy="1132.17" rx="3.21" ry="3.21"/>
<ellipse class="p" cx="428.01" cy="1132.44" rx="1.6" ry="1.6"/>
<path class="pbw" d="M449.94 1122.94L464.65 1112.91L466.52 1115.99L452.21 1125.88Z"/>
<ellipse class="pbw" cx="447.53" cy="1126.95" rx="5.08" ry="4.81" stroke-width="2.4"/>
<ellipse class="pb" cx="447" cy="1127.49" rx="3.21" ry="3.21"/>
<ellipse class="p" cx="446.73" cy="1127.76" rx="1.6" ry="1.6"/>
<path class="pbw" d="M470 1141.66L484.71 1131.63L486.58 1134.71L472.27 1144.61Z"/>
<ellipse class="pbw" cx="467.59" cy="1145.68" rx="5.08" ry="4.81" stroke-width="2.4"/>
<ellipse class="pb" cx="467.06" cy="1146.21" rx="3.21" ry="3.21"/>
<ellipse class="p" cx="466.79" cy="1146.48" rx="1.6" ry="1.6"/>
<path class="k" d="M373.98 1083.22L388.02 1082.82L388.02 1090.85L373.98 1090.45C372.24 1089.51 372.24 1084.16 373.98 1083.22Z"/>
<path class="" d="M375.99 1083.49L375.99 1090.18M379.33 1083.22L379.33 1090.45M382.67 1083.09L382.67 1090.58M386.02 1082.96L386.02 1090.71" stroke="#888" stroke-width="0.7" fill="none"/>
<path class="pbw" d="M388.02 1081.49L390.03 1080.15L399.39 1080.15L401.4 1081.49L401.4 1091.78L399.39 1093.12L390.03 1093.12L388.02 1091.78Z"/>
<path class="pb" d="M392.7 1080.42L392.7 1092.85M396.72 1080.42L396.72 1092.85"/>
<path class="k" d="M390.03 1081.49L392.04 1082.15L392.04 1090.85L390.03 1091.78Z"/>
<path class="pbw" d="M401.4 1081.49L408.75 1080.82L413.43 1084.83L408.75 1089.91L401.4 1091.52Z"/>
<path class="p" d="M406.75 1081.08L406.75 1090.18"/>
<ellipse class="k" cx="411.83" cy="1155.97" rx="5.62" ry="5.62"/>
<ellipse class="" cx="411.03" cy="1154.37" rx="2.67" ry="1.87" fill="#555"/>
</g>
<g id="24_valves">
<path class="" d="M315.55 1157.5L315.82 1192.94C316.49 1194.68 319.56 1194.68 320.1 1192.94L320.1 1157.5Z" fill="#ccc" stroke="#1a1a1a" stroke-width="1.5"/>
<ellipse class="pbw" cx="317.82" cy="1156.17" rx="4.01" ry="2.01"/>
<ellipse class="p" cx="317.82" cy="1155.9" rx="2.14" ry="0.94"/>
<ellipse class="k" cx="344.57" cy="1187.19" rx="5.62" ry="5.62"/>
<ellipse class="" cx="343.9" cy="1186.26" rx="2.41" ry="1.87" fill="#555"/>
<ellipse class="k" cx="344.84" cy="1203.64" rx="5.62" ry="6.02"/>
<ellipse class="" cx="344.17" cy="1202.7" rx="2.41" ry="1.87" fill="#555"/>
<path class="k" d="M355.94 1172.21C357.27 1166.86 363.96 1164.19 369.31 1166.2L372.65 1172.21L370.65 1178.23L362.62 1180.91L357.27 1178.23Z"/>
<path class="k" d="M355.94 1188.93C357.27 1184.25 363.96 1181.58 369.98 1183.58L372.65 1188.26L369.98 1194.28L361.95 1196.95L357.27 1194.28Z"/>
<path class="" d="M372.65 1152.15L402.74 1138.78L405.42 1172.21L374.66 1186.92" stroke="#333" stroke-width="1.4" stroke-dasharray="5 3" fill="none"/>
<path class="" d="M372.65 1152.82L373.59 1164.19" stroke="#333" stroke-width="1.4" stroke-dasharray="5 3" fill="none"/>
<path class="" d="M374.66 1164.19L392.04 1152.82" stroke="#1a1a1a" stroke-width="3.8" fill="none" stroke-linecap="round"/>
<path class="" d="M376 1163.39L392.04 1152.96" stroke="#fff" stroke-width="1.3" fill="none"/>
<ellipse class="pbw" cx="395.39" cy="1150.82" rx="5.08" ry="4.81" transform="rotate(-20 395.39 1150.82)" stroke-width="2"/>
<ellipse class="pb" cx="394.45" cy="1151.35" rx="2.67" ry="2.41"/>
<path class="" d="M374.66 1180.51L392.04 1169.14" stroke="#1a1a1a" stroke-width="3.8" fill="none" stroke-linecap="round"/>
<path class="" d="M376 1179.7L392.04 1169.27" stroke="#fff" stroke-width="1.3" fill="none"/>
<ellipse class="pbw" cx="395.39" cy="1167.13" rx="5.08" ry="4.81" transform="rotate(-20 395.39 1167.13)" stroke-width="2"/>
<ellipse class="pb" cx="394.45" cy="1167.67" rx="2.67" ry="2.41"/>
<path class="pbw" d="M299.1 1213.67L301.78 1210.33L315.82 1211L319.83 1213L331.2 1217.68L331.86 1222.36L329.19 1225.44L305.12 1219.69L299.5 1218.75Z"/>
<path class="pb" d="M301.78 1210.33L305.12 1213.67L329.19 1221.03M305.12 1213.67L305.12 1219.69M310.47 1212.07L318.49 1213.94L323.84 1217.68"/>
<ellipse class="k" cx="301.78" cy="1216.34" rx="2.41" ry="2.67"/>
<ellipse class="pb" cx="326.78" cy="1221.69" rx="1.87" ry="1.87"/>
<path class="pbw" d="M299.1 1229.99L301.78 1226.64L315.82 1227.31L319.83 1229.32L331.2 1234L331.86 1238.68L329.19 1241.75L305.12 1236L299.5 1235.07Z"/>
<path class="pb" d="M301.78 1226.64L305.12 1229.99L329.19 1237.34M305.12 1229.99L305.12 1236M310.47 1228.38L318.49 1230.25L323.84 1234"/>
<ellipse class="k" cx="301.78" cy="1232.66" rx="2.41" ry="2.67"/>
<ellipse class="pb" cx="326.78" cy="1238.01" rx="1.87" ry="1.87"/>
</g>
<g id="25_cover2">
<path class="pbw" d="M247.51 1225.66C248.7 1222.69 253.45 1222.1 255.83 1225.07L279.61 1226.85C283.17 1225.66 287.93 1228.04 289.12 1232.79L290.9 1239.93L291.26 1281.53C290.9 1285.1 289.12 1288.66 284.96 1289.61L279.61 1286.88C273.66 1289.85 268.91 1289.85 262.96 1286.88L246.32 1277.37C242.76 1275.59 240.14 1272.02 239.78 1267.27L239.78 1248.25C240.97 1242.3 245.13 1237.55 248.11 1232.79Z"/>
<path class="pb" d="M255.83 1225.07L253.45 1230.42L248.7 1232.79M253.45 1230.42L277.23 1231.6L279.61 1226.85M277.23 1231.6L282.58 1235.77C285.55 1239.93 286.74 1243.49 286.74 1249.44L287.33 1281.53L284.96 1289.61M282.58 1235.77L289.12 1232.79M248.11 1232.79C246.32 1237.55 241.57 1242.3 240.97 1248.25L240.97 1267.27C241.57 1272.02 243.95 1274.4 247.51 1276.18L262.96 1285.1C268.91 1288.07 273.66 1287.47 279.61 1285.1L287.33 1281.53"/>
<path class="" d="M288.52 1237.55L289.12 1283.91" stroke="#1a1a1a" stroke-width="2.6" fill="none"/>
<ellipse class="pb" cx="251.67" cy="1227.8" rx="1.66" ry="1.66"/>
<ellipse class="pb" cx="283.77" cy="1231.6" rx="1.66" ry="1.66"/>
<ellipse class="pb" cx="283.41" cy="1285.1" rx="1.66" ry="1.66"/>
<path class="pb" d="M243.95 1243.49L267.72 1239.93M242.76 1248.25L270.1 1258.95M274.26 1251.81L274.61 1285.1M243.95 1272.02L270.1 1273.21M245.13 1273.21C252.27 1272.02 264.15 1272.62 270.1 1274.99"/>
<path class="" d="M243.95 1272.26L270.1 1273.92" stroke="#1a1a1a" stroke-width="2.6" fill="none"/>
<text font-family="Liberation Sans, sans-serif" font-weight="bold" font-size="12" fill="#fff" stroke="#222" stroke-width="1.2" transform="translate(242.28 1265.6) rotate(14)">OHV</text>
<ellipse class="k" cx="221.6" cy="1249.44" rx="3.8" ry="3.57"/>
<ellipse class="" cx="221.12" cy="1248.96" rx="1.55" ry="1.31" fill="#999"/>
<path class="" d="M223.97 1246.82L226.59 1245.16" stroke="#1a1a1a" stroke-width="2.6" fill="none" stroke-linecap="round"/>
<ellipse class="k" cx="229.09" cy="1270.24" rx="3.8" ry="3.57"/>
<ellipse class="" cx="228.61" cy="1269.76" rx="1.55" ry="1.31" fill="#999"/>
<path class="" d="M231.46 1267.62L234.08 1265.96" stroke="#1a1a1a" stroke-width="2.6" fill="none" stroke-linecap="round"/>
<ellipse class="k" cx="217.2" cy="1295.2" rx="3.8" ry="3.57"/>
<ellipse class="" cx="216.72" cy="1294.73" rx="1.55" ry="1.31" fill="#999"/>
<path class="" d="M219.58 1292.59L222.19 1290.92" stroke="#1a1a1a" stroke-width="2.6" fill="none" stroke-linecap="round"/>
<ellipse class="k" cx="250.84" cy="1308.87" rx="3.8" ry="3.57"/>
<ellipse class="" cx="250.36" cy="1308.4" rx="1.55" ry="1.31" fill="#999"/>
<path class="" d="M253.22 1306.26L255.83 1304.59" stroke="#1a1a1a" stroke-width="2.6" fill="none" stroke-linecap="round"/>
</g>
<g id="26_guard35">
<path class="pbw" d="M107.41 980.34C108.82 974.7 110.94 971.87 115.17 969.75L140.58 954.23L174.46 960.58C177.99 961.99 179.4 964.11 179.82 966.93L182.93 988.81L182.22 1007.16L177.99 1010.27L149.05 1001.52L146.93 1002.93L148.77 1032.57L144.81 1033.7L108.4 1022.41L106 1014.22Z"/>
<path class="pb" d="M115.17 969.75L146.23 977.52L149.05 1001.52M146.23 977.52L154.7 971.87L174.46 960.58M140.58 954.23L129.29 969.05L149.05 974.7L161.75 964.81L149.05 959.17M149.05 974.7L146.93 1002.93M154.7 971.87L156.11 983.16L181.52 988.81"/>
<path class="" d="M137.76 956.34L143.4 956.34L143.4 959.87L137.76 959.87Z" fill="#666" stroke="none"/>
<path class="" d="M153.28 961.29L174.46 965.52" stroke="#1a1a1a" stroke-width="3.4" fill="none"/>
<path class="" d="M157.52 966.93L175.87 970.46" stroke="#1a1a1a" stroke-width="3.4" fill="none"/>
<path class="" d="M160.34 972.58L177.28 976.11" stroke="#1a1a1a" stroke-width="3.4" fill="none"/>
<path class="" d="M149.05 984.58L178.69 993.05" stroke="#1a1a1a" stroke-width="3.4" fill="none"/>
<path class="" d="M149.05 990.22L179.4 999.4" stroke="#1a1a1a" stroke-width="3.4" fill="none"/>
<path class="" d="M149.05 995.87L178.69 1004.34" stroke="#1a1a1a" stroke-width="3.4" fill="none"/>
<path class="pbw" d="M156.81 981.75L168.81 984.58L168.81 980.34L156.81 977.52Z"/>
<ellipse class="k" cx="171.63" cy="983.87" rx="1.69" ry="1.69"/>
<path class="" d="M111.64 985.99L140.58 993.05" stroke="#1a1a1a" stroke-width="3.6" fill="none"/>
<path class="" d="M110.94 990.93L140.58 997.99" stroke="#1a1a1a" stroke-width="3.6" fill="none"/>
<path class="" d="M110.94 995.87L139.87 1002.93" stroke="#1a1a1a" stroke-width="3.6" fill="none"/>
<path class="" d="M110.23 1007.16L144.81 1017.04" stroke="#1a1a1a" stroke-width="3.6" fill="none"/>
<path class="" d="M110.23 1012.1L144.81 1021.98" stroke="#1a1a1a" stroke-width="3.6" fill="none"/>
<path class="" d="M110.23 1017.04L144.81 1026.22" stroke="#1a1a1a" stroke-width="3.6" fill="none"/>
<path class="" d="M112.35 988.81L137.76 995.16L137.76 1000.81L111.64 994.46ZM112.35 1009.99L143.4 1018.74L143.4 1024.1L111.64 1015.63Z" fill="url(#hx)" stroke="none"/>
<path class="pb" d="M122.23 1001.52L143.4 1007.16M122.23 1001.52L122.51 1009.99"/>
<ellipse class="k" cx="133.52" cy="1006.03" rx="1.84" ry="1.98"/>
<path class="" d="M108.4 980.34L107.41 1014.22M110.23 976.11L109.24 981.75" stroke="#1a1a1a" stroke-width="2.6" fill="none"/>
<ellipse class="k" cx="160.34" cy="938.7" rx="4.23" ry="3.95"/>
<path class="k" d="M158.22 941.52L158.65 948.58L162.04 948.58L162.46 941.52Z"/>
<ellipse class="" cx="159.78" cy="937.71" rx="1.41" ry="0.99" fill="#888"/>
<path class="k" d="M211.16 954.23L214.69 949.29L219.63 947.88L222.45 950.7L219.63 954.93L213.98 957.05Z"/>
<ellipse class="" cx="217.51" cy="950.42" rx="1.41" ry="0.99" fill="#888"/>
<path class="k" d="M87.64 1032.57L91.17 1030.45L95.41 1031.86L96.11 1036.1L92.59 1038.92L88.35 1037.51Z"/>
<path class="" d="M94.7 1031.16L98.94 1029.04L99.64 1031.16L96.11 1033.28Z" fill="#777" stroke="#1a1a1a" stroke-width="1"/>
<ellipse class="pbw" cx="187.87" cy="995.16" rx="3.67" ry="4.23" stroke-width="2.2"/>
<ellipse class="" cx="187.44" cy="995.16" rx="1.69" ry="2.26" fill="#888" stroke="#1a1a1a" stroke-width="1"/>
<path class="" d="M192.1 995.16L205.51 998.69L204.81 1002.22L191.68 998.69Z" fill="url(#hv)" stroke="#1a1a1a" stroke-width="1.4"/>
<path class="k" d="M209.04 1000.81L211.86 998.97L217.51 1000.39L217.51 1004.06L214.69 1006.03L209.04 1004.62Z"/>
<ellipse class="" cx="212.85" cy="1002.5" rx="1.69" ry="0.99" fill="#aaa"/>
<path class="k" d="M223.58 999.4L229.51 1000.39L229.79 1002.93L224.15 1002.22Z"/>
<ellipse class="pbw" cx="176.58" cy="1028.34" rx="3.11" ry="3.67" stroke-width="2.2"/>
<ellipse class="p" cx="176.15" cy="1028.34" rx="1.41" ry="1.84"/>
<path class="pbw" d="M179.4 1027.63L194.93 1032.29L194.22 1035.39L178.97 1030.45Z"/>
<path class="k" d="M197.75 1023.4L201.28 1021.98L204.1 1024.81L200.57 1026.64Z"/>
<path class="pbw" d="M202.41 1035.68C202.97 1034.26 209.75 1035.68 210.45 1037.51L209.75 1039.91C208.34 1040.76 202.69 1039.35 202.12 1038.22Z"/>
<path class="p" d="M204.1 1035.39L203.82 1039.06"/>
</g>
<g id="27_muffler">
<path class="pbw" d="M227.7 1007.79L259.8 993.75L263.81 995.09L269.83 993.75L272.5 997.1L272.5 1031.86L269.83 1034.54L263.81 1035.21L259.8 1034.54L255.12 1037.88L250.04 1037.21L243.75 1043.9L236.4 1047.24L233.05 1053.26L228.37 1051.92Z"/>
<path class="" d="M227.7 1008.06L269.56 989.34" stroke="#1a1a1a" stroke-width="3.2" fill="none"/>
<path class="pb" d="M233.05 1010.47L233.05 1053.26M228.37 1009.13L233.05 1010.47L236.4 1009.13L236.4 1047.24M259.8 993.75L259.8 1034.54M263.81 995.09L263.81 1035.21M269.83 993.75L269.83 1034.54M261.14 995.76L261.14 1033.87"/>
<ellipse class="pb" cx="247.76" cy="1022.5" rx="4.01" ry="8.29" transform="rotate(12 247.76 1022.5)"/>
<path class="pb" d="M244.42 1003.78L248.43 1001.78L250.04 1004.45L246.43 1007.12Z"/>
<ellipse class="k" cx="255.12" cy="1008.46" rx="0.8" ry="1.07"/>
<ellipse class="k" cx="239.74" cy="1035.88" rx="0.8" ry="1.07"/>
<path class="" d="M273.32 1035.66C273.62 1030.91 275.1 1026.75 278.67 1025.56L286.99 1026.15L286.4 1065.08L276.89 1061.81C274.51 1060.03 273.02 1058.25 273.02 1055.87Z" fill="#fff" stroke="#1a1a1a" stroke-width="2.2" stroke-linejoin="round"/>
<path class="" d="M273.92 1035.66L285.8 1033.28L274.51 1041.6L285.8 1041.01L275.1 1047.55L285.8 1047.55L274.51 1053.49L285.8 1054.68L276.29 1059.44L285.8 1061.22M275.7 1028.53L285.8 1029.72" stroke="#444" stroke-width="1.8" fill="none"/>
<path class="" d="M286.69 1024.96C286.99 1021.4 288.77 1019.02 291.15 1017.83L300.66 1013.08L308.98 1014.86L310.17 1009.51L313.74 1007.13L321.46 1008.92L323.25 1010.22L320.57 1015.45L324.44 1018.42C329.19 1019.61 330.97 1021.4 331.09 1024.96L330.97 1052.3C330.38 1055.27 328.6 1056.46 326.81 1057.06L318.49 1060.62L306.6 1067.16L293.53 1071.32C289.96 1072.21 286.99 1071.32 285.8 1068.35L285.21 1059.44Z" fill="#fff" stroke="#1a1a1a" stroke-width="3" stroke-linejoin="round"/>
<path class="" d="M286.99 1024.96C286.4 1041.6 286.1 1053.49 286.69 1068.35" stroke="#1a1a1a" stroke-width="4.5" fill="none"/>
<path class="" d="M288.77 1023.77C293.53 1020.21 298.28 1017.83 303.04 1017.24L308.98 1017.83L320.57 1015.45M289.96 1026.15C295.91 1022.59 303.04 1020.8 308.98 1021.4L317.3 1023.77L324.44 1018.42M303.04 1017.24L301.85 1023.77L306.6 1027.93L317.3 1023.77M306.6 1027.93L307.79 1033.28M291.15 1030.91C295.91 1028.53 300.66 1029.72 303.04 1033.28C300.66 1035.66 300.66 1041.6 300.66 1068.35M306.6 1035.66L306.6 1065.38M300.66 1041.6L306.6 1041.01M300.66 1050.52L306.6 1049.93M300.66 1058.25L306.6 1057.06" stroke="#1a1a1a" stroke-width="2.6" fill="none" stroke-linejoin="round" stroke-linecap="round"/>
<path class="" d="M292.34 1036.85L300.07 1038.04L292.93 1043.98L300.07 1045.17L292.34 1052.3L300.07 1053.49L292.93 1059.44L300.07 1061.81L293.53 1067.16" stroke="#333" stroke-width="1.8" fill="none"/>
<path class="" d="M323.25 1024.96L323.54 1052.3L318.49 1057.06M324.44 1019.61L323.54 1024.96M317.3 1023.77L317.3 1033.28L322.06 1035.66" stroke="#1a1a1a" stroke-width="2.6" fill="none" stroke-linejoin="round" stroke-linecap="round"/>
<path class="" d="M307.79 1035.66L307.79 1059.44L311.95 1057.06L311.95 1038.04Z" fill="#bbb" stroke="none"/>
<ellipse class="k" cx="317.3" cy="1048.14" rx="4.28" ry="8.02"/>
<ellipse class="" cx="316.71" cy="1047.55" rx="1.78" ry="4.75" fill="#666"/>
<path class="k" d="M308.98 1014.86L310.17 1009.51L313.74 1007.13L321.46 1008.92L323.25 1010.22L320.57 1015.45L316.11 1013.67Z"/>
<path class="" d="M311.36 1015.45L312.55 1011.89L315.52 1012.78L314.93 1016.05" stroke="#ddd" stroke-width="1.4" fill="none"/>
<path class="k" d="M289.96 1019.61L300.66 1014.26L303.04 1017.24L292.34 1022.59ZM304.23 1023.18L310.17 1024.96L308.98 1028.53L305.42 1027.93Z"/>
<path class="" d="M292.93 1019.91L300.07 1016.64" stroke="#ccc" stroke-width="1.6" fill="none"/>
<path class="pbw" d="M340.71 1043.9L348.06 1042.56L343.38 1033.2L350.07 1029.86L360.1 1035.21L362.1 1041.89L366.78 1039.89L366.78 1031.86L358.76 1025.85L372.8 1018.22L384.84 1025.85L384.84 1063.96L366.11 1072.65L362.77 1071.32L350.07 1080.01L341.37 1078.67L339.37 1074.66Z"/>
<path class="pb" d="M348.06 1042.56L351.4 1043.9L350.07 1080.01M348.06 1042.56L347.39 1079.34M343.38 1033.2L352.74 1038.55L360.1 1035.21M352.74 1038.55L351.4 1043.9M366.78 1031.86L384.84 1025.85M367.45 1033.87L384.84 1027.85M368.12 1035.88L384.57 1029.99"/>
<ellipse class="pb" cx="362.77" cy="1057.27" rx="4.28" ry="7.76" transform="rotate(18 362.77 1057.27)"/>
</g>
<g id="28_studs">
<path class="" d="M690.03 1144.13L761.58 1162.18" stroke="#1a1a1a" stroke-width="3.6" fill="none" stroke-linecap="round"/>
<path class="" d="M701.4 1146.94L751.55 1159.64" stroke="#fff" stroke-width="1.2" fill="none"/>
<path class="" d="M690.03 1144.13L699.39 1146.54M752.88 1160.04L761.58 1162.18" stroke="#1a1a1a" stroke-width="4.6" fill="none" stroke-linecap="round"/>
<path class="" d="M688.69 1152.82L760.24 1170.88" stroke="#1a1a1a" stroke-width="3.6" fill="none" stroke-linecap="round"/>
<path class="" d="M700.06 1155.63L750.21 1168.34" stroke="#fff" stroke-width="1.2" fill="none"/>
<path class="" d="M688.69 1152.82L698.05 1155.23M751.55 1168.74L760.24 1170.88" stroke="#1a1a1a" stroke-width="4.6" fill="none" stroke-linecap="round"/>
<path class="pbw" d="M767.59 1174.89C768.26 1170.88 772.27 1169.54 774.95 1170.88L776.95 1164.86L781.63 1163.92L786.32 1166.86L786.98 1170.88L782.97 1178.9L776.29 1182.91L772.94 1180.24L769.6 1179.57Z"/>
<path class="pb" d="M774.95 1170.88L781.63 1169.54L782.97 1178.9M776.95 1164.86L781.63 1169.54L786.32 1166.86M778.29 1174.89L781.63 1173.55"/>
<ellipse class="pb" cx="771.6" cy="1174.89" rx="2.14" ry="2.67"/>
<ellipse class="k" cx="784.31" cy="1168.87" rx="1.07" ry="1.34"/>
<path class="pbw" d="M789.66 1180.24C791 1176.23 796.34 1172.21 801.03 1168.2C805.71 1165.53 811.05 1168.2 812.66 1173.55L812.39 1178.9L797.68 1192.94L793 1190.94Z"/>
<path class="pb" d="M793 1177.56L797.68 1174.89L812.39 1178.9M793 1177.56L793.67 1190.94M797.68 1174.89L801.03 1168.2"/>
<ellipse class="pbw" cx="802.36" cy="1179.97" rx="3.21" ry="4.28" transform="rotate(15 802.36 1179.97)" stroke-width="2"/>
<ellipse class="pb" cx="802.36" cy="1180.24" rx="1.34" ry="1.87" transform="rotate(15 802.36 1180.24)"/>
<ellipse class="k" cx="809.05" cy="1176.89" rx="0.94" ry="1.2"/>
<ellipse class="pb" cx="794.34" cy="1180.24" rx="1.07" ry="1.6"/>
<path class="pbw" d="M817.07 1183.58C817.07 1181.58 818.41 1180.24 820.42 1179.97L833.79 1174.62C836.2 1174.22 837.13 1175.96 837.13 1177.56L836.73 1202.97C836.46 1204.98 835.13 1206.32 833.79 1206.72L819.75 1213C817.74 1213.4 816.4 1212.07 816.4 1210.33Z" stroke-width="2"/>
<ellipse class="pbw" cx="826.84" cy="1186.26" rx="2.94" ry="4.81" transform="rotate(20 826.84 1186.26)" stroke-width="2"/>
<ellipse class="pb" cx="832.45" cy="1184.25" rx="0.94" ry="1.2"/>
<ellipse class="pb" cx="820.15" cy="1188.26" rx="0.94" ry="1.2"/>
</g>
<g id="29_carb">
<path class="pbw" d="M929.2 1159.23C929.44 1157.09 933 1156.61 936.57 1157.44L941.08 1159.23L941.56 1162.2L939.54 1164.22L935.14 1163.39L934.78 1172.3L932.41 1174.68L929.44 1173.49L928.84 1167.55Z"/>
<path class="pb" d="M935.14 1159.23L935.14 1163.39M929.44 1167.55L934.78 1168.14M939.54 1159.23L939.54 1164.22"/>
<ellipse class="pb" cx="931.81" cy="1169.93" rx="1.19" ry="1.43"/>
<path class="k" d="M922.9 1180.03L929.44 1177.65L934.19 1180.03L929.44 1182.76L923.49 1182.05Z"/>
<ellipse class="" cx="929.44" cy="1180.15" rx="1.66" ry="0.71" fill="#bbb"/>
<path class="k" d="M946.08 1156.85L948.45 1155.66L949.05 1160.42L951.43 1157.44L950.83 1162.79L948.45 1166.36L946.67 1163.98Z"/>
<path class="k" d="M961.53 1163.98C963.91 1161.01 968.66 1160.42 971.04 1163.39L971.63 1173.49C969.85 1177.65 965.1 1178.84 962.12 1175.87C959.75 1172.3 959.75 1167.55 961.53 1163.98Z"/>
<ellipse class="" cx="966.52" cy="1168.97" rx="2.38" ry="4.04" transform="rotate(15 966.52 1168.97)" fill="#ccc"/>
<ellipse class="k" cx="966.88" cy="1169.33" rx="1.07" ry="2.38" transform="rotate(15 966.88 1169.33)"/>
<path class="pbw" d="M946.08 1221.04C947.27 1217.47 957.96 1210.94 963.91 1209.75C967.47 1210.34 969.85 1213.91 969.85 1218.66C967.47 1224.61 959.15 1232.93 954.99 1235.3L949.05 1232.93C946.67 1229.36 945.48 1224.61 946.08 1221.04Z" stroke-width="2.2"/>
<path class="pb" d="M953.21 1218.66C955.59 1215.1 961.53 1212.72 965.1 1213.91C966.88 1216.29 965.1 1222.23 961.53 1225.79C957.96 1228.77 954.4 1228.17 953.21 1225.79C952.02 1223.42 952.02 1221.04 953.21 1218.66Z"/>
<path class="pb" d="M955.59 1218.66C957.37 1216.29 961.53 1215.1 963.91 1216.05"/>
<ellipse class="k" cx="948.69" cy="1222.47" rx="0.95" ry="1.43"/>
<ellipse class="pb" cx="965.69" cy="1216.88" rx="0.83" ry="1.07"/>
<path class="pb" d="M946.08 1223.42C947.27 1226.98 949.64 1230.55 953.21 1232.33"/>
<path class="pbw" d="M892.59 1207.96C893.77 1203.21 898.53 1198.45 902.1 1196.08L900.91 1190.13L905.66 1187.76L908.04 1183L915.17 1181.81L916.95 1186.57L915.17 1196.08L922.3 1197.27L929.44 1193.7L931.81 1196.08L936.57 1200.83C939.54 1205.59 938.95 1212.72 936.57 1217.47L930.62 1224.61L929.44 1230.55L922.3 1235.3L917.55 1238.87L916.95 1242.44L909.23 1243.39L905.66 1238.87L902.1 1234.12L899.72 1226.98L894.96 1221.04L891.99 1215.1Z"/>
<path class="" d="M905.66 1187.76L912.79 1186.57L913.98 1196.08L906.85 1197.27ZM900.91 1190.13L905.66 1191.32L905.66 1197.27L901.5 1196.67ZM908.04 1183L909.23 1186.57L915.17 1185.97" fill="#333" stroke="#1a1a1a" stroke-width="1.4"/>
<path class="" d="M893.77 1207.96C900.91 1203.21 909.23 1202.02 917.55 1203.21C925.87 1203.21 934.19 1205.59 937.76 1210.34M894.96 1215.1C903.28 1221.04 921.11 1222.23 930.62 1219.85L936.57 1215.1M899.72 1224.61C909.23 1226.98 922.3 1226.98 930.03 1225.2M900.91 1226.98C903.28 1234.12 908.04 1237.68 915.17 1237.09C922.3 1236.49 928.25 1232.93 929.44 1226.98" stroke="#1a1a1a" stroke-width="2.2" fill="none"/>
<path class="" d="M898.53 1202.02L905.66 1198.45L909.23 1203.21L903.28 1207.96ZM910.42 1200.83L917.55 1198.45L921.11 1203.21L915.17 1206.78ZM922.3 1202.02L929.44 1199.64L934.19 1205.59L927.06 1209.15ZM897.34 1211.53L904.47 1210.34L905.66 1217.47L898.53 1216.29ZM909.23 1209.15L919.93 1207.96L921.11 1215.1L911.6 1217.47ZM924.68 1211.53L933 1210.34L934.19 1216.29L925.87 1218.66Z" fill="#2a2a2a" stroke="none"/>
<path class="" d="M899.72 1203.21L904.47 1200.83M911.6 1202.02L916.36 1200.24M924.09 1203.21L928.84 1201.43M912.79 1211.53L918.74 1210.94M927.06 1213.31L931.81 1212.72" stroke="#ddd" stroke-width="1.6" fill="none"/>
<ellipse class="" cx="918.74" cy="1207.96" rx="2.62" ry="2.14" fill="#fff" stroke="#1a1a1a" stroke-width="1.2"/>
<ellipse class="" cx="911.6" cy="1202.02" rx="1.66" ry="2.14" fill="#fff" stroke="#1a1a1a" stroke-width="1.2"/>
<ellipse class="" cx="927.06" cy="1213.91" rx="2.38" ry="1.66" fill="#fff" stroke="#1a1a1a" stroke-width="1.2"/>
<path class="pbw" d="M928.25 1196.08L928.84 1192.51L931.22 1192.51L931.81 1196.08"/>
<ellipse class="k" cx="930.03" cy="1195.13" rx="1.43" ry="1.66"/>
<path class="k" d="M906.26 1237.09L906.85 1241.84L916.95 1241.84L917.55 1237.09Z"/>
<path class="" d="M908.04 1238.28L908.04 1241.25M910.42 1238.28L910.42 1241.49M912.79 1238.28L912.79 1241.49M915.17 1238.28L915.17 1241.25" stroke="#999" stroke-width="1" fill="none"/>
<path class="pb" d="M891.99 1212.72L890.8 1215.1L893.77 1219.85L895.56 1218.66"/>
<ellipse class="pb" cx="894.37" cy="1210.34" rx="1.66" ry="2.62"/>
</g>
<g id="30_aircleaner">
<path class="" d="M989.85 1056.86L1075.66 1056.86L1075.66 1265.42L989.85 1265.42Z" stroke="#1a1a1a" stroke-width="2" stroke-dasharray="5 3" fill="none"/>
<path class="pbw" d="M957.16 1100.67C957.98 1095.77 962.88 1094.13 966.15 1097.4L970.24 1107.21L971.05 1112.11L978.41 1114.56C981.68 1116.2 980.86 1121.92 978.41 1123.55L968.6 1120.28L959.61 1115.38C957.16 1112.11 956.34 1105.57 957.16 1100.67Z"/>
<ellipse class="pb" cx="977.92" cy="1118.97" rx="2.62" ry="4.58" transform="rotate(15 977.92 1118.97)"/>
<path class="pb" d="M959.61 1105.57C962.88 1107.21 966.15 1105.57 967.79 1102.3M964.52 1112.93L966.97 1118.65M971.05 1112.11L966.15 1113.74L961.25 1112.93"/>
<path class="pbw" d="M999.66 1090.86C1000.48 1087.59 1005.38 1084.32 1011.92 1082.69L1031.53 1076.15L1047.88 1071.25L1067.49 1078.6C1070.76 1080.24 1071.58 1082.69 1070.76 1086.78L1069.94 1090.86L1044.61 1107.21L1031.53 1108.84L1030.71 1103.94L1026.63 1103.94L1025.81 1108.84L1008.65 1103.94L1000.48 1100.67Z"/>
<path class="pb" d="M1000.48 1090.86L1031.53 1099.03L1044.61 1107.21M1031.53 1099.03L1030.71 1103.94M1031.53 1099.03L1038.07 1100.67L1069.94 1085.14M1011.92 1082.69L1020.09 1093.31M1031.53 1076.15L1024.99 1089.23L1020.09 1093.31L1031.53 1097.4L1039.7 1098.22M1038.07 1081.05L1028.26 1090.04L1036.43 1097.4M1044.61 1074.52L1041.34 1078.6L1057.68 1090.86M1047.88 1071.25L1046.24 1076.15L1060.95 1089.23M1033.98 1085.14L1044.61 1094.95M1038.07 1083.51L1048.69 1093.31"/>
<path class="" d="M1038.07 1085.14L1046.24 1092.82L1048.69 1091.68L1040.52 1084Z" fill="url(#hd)" stroke="none"/>
<path class="pb" d="M1005.38 1102.3L1007.01 1110.48L1024.99 1115.38L1026.63 1110.48M1007.01 1104.75L1024.99 1109.66L1025.81 1103.94M1010.28 1103.12L1011.92 1106.39L1021.72 1108.84L1020.91 1105.57"/>
<path class="" d="M1006.2 1106.39L1025.32 1111.78" stroke="#1a1a1a" stroke-width="2.6" fill="none"/>
<path class="pbw" d="M1014.37 1126L1046.24 1115.38L1066.67 1120.28L1066.67 1131.72L1046.24 1144.8L1015.19 1136.63Z"/>
<path class="pb" d="M1014.37 1126L1046.24 1134.18L1066.67 1120.28M1046.24 1134.18L1046.24 1144.8"/>
<path class="pbw" d="M1005.38 1144.8C1006.2 1142.35 1010.28 1141.53 1012.73 1141.86L1044.61 1149.7C1047.06 1150.52 1047.55 1152.97 1047.06 1154.61L1046.24 1161.96L1036.43 1164.41L1005.38 1156.24Z"/>
<path class="pb" d="M1005.38 1146.43L1036.43 1154.61L1047.06 1152.15M1036.43 1154.61L1036.43 1164.41M1044.61 1152.64L1044.61 1162.45"/>
<path class="pbw" d="M993.12 1198.74C993.94 1195.47 997.21 1193.83 1000.48 1193.02L1034.8 1179.94L1052.78 1180.76L1069.12 1185.66C1071.58 1187.3 1072.07 1190.56 1071.58 1193.83L1070.76 1213.45L1069.12 1219.99L1060.95 1226.52L1060.13 1241.23L1054.41 1252.67L1038.07 1254.31L1031.53 1251.86L1030.71 1244.5L1005.38 1236.33L993.94 1224.89Z"/>
<path class="pb" d="M993.12 1198.74L1036.43 1206.91L1044.61 1204.46L1071.58 1188.93M1036.43 1206.91L1034.8 1244.5M1044.61 1204.46L1044.61 1242.87M1005.38 1197.1L1008.65 1192.2L1038.07 1180.76M1007.01 1196.29L1038.07 1203.64L1047.88 1197.92M1016.82 1195.47L1038.07 1200.37M1005.38 1202.82L1005.38 1211L1031.53 1218.35L1033.16 1211.81M1007.01 1205.27L1031.53 1211.81M1034.8 1244.5L1054.41 1241.23L1054.41 1223.25L1064.22 1215.08L1070.76 1213.45M1060.95 1219.99L1060.95 1226.52M1060.95 1219.99L1069.12 1214.26L1069.12 1219.99M1052.78 1226.52L1052.78 1242.87"/>
<path class="" d="M1006.2 1204.46L1031.53 1211L1031.53 1217.53L1006.2 1210.18Z" fill="none" stroke="#1a1a1a" stroke-width="2.2"/>
<path class="pb" d="M1046.24 1193.83L1047.06 1198.74M1033.98 1197.92L1038.07 1198.74"/>
<path class="" d="M1038.07 1246.14L1038.07 1253.49M1041.34 1246.14L1042.15 1252.67" stroke="#1a1a1a" stroke-width="2.4" fill="none"/>
<path class="pbw" d="M1085.47 1224.89C1086.29 1220.8 1090.37 1219.99 1092.82 1220.8L1101 1223.25C1103.94 1224.89 1103.94 1231.43 1101 1233.88L1092.01 1234.7L1086.29 1232.24Z"/>
<path class="pb" d="M1092.82 1220.8C1090.37 1224.89 1090.37 1229.79 1092.01 1234.7"/>
<ellipse class="p" cx="1099.36" cy="1228.65" rx="1.63" ry="2.29"/>
<ellipse class="k" cx="1095.27" cy="1255.45" rx="4.2" ry="4.4"/>
<ellipse cx="1095.27" cy="1254.79" rx="1.76" ry="1.67" fill="#888"/>
<ellipse class="k" cx="1086.29" cy="1261.17" rx="4.2" ry="4.6"/>
<ellipse cx="1086.29" cy="1260.48" rx="1.76" ry="1.75" fill="#888"/>
</g>
<g id="31_bolts70">
<g transform="translate(725.6 250.1) rotate(15)"><path d="M2 -1.6L8.5 -1.6L8.5 1.6L2 1.6Z" fill="#777" stroke="#222" stroke-width="0.8"/><path class="k" d="M-3.6 -3.2L0.8 -3.6L2.6 -4.2L2.6 4.2L0.8 3.6L-3.6 3.2L-4.4 0Z"/><ellipse cx="-1.4" cy="-0.6" rx="1.3" ry="1.6" fill="#999"/></g>
<g transform="translate(694.8 314.8) rotate(15)"><path d="M2 -1.6L8.5 -1.6L8.5 1.6L2 1.6Z" fill="#777" stroke="#222" stroke-width="0.8"/><path class="k" d="M-3.6 -3.2L0.8 -3.6L2.6 -4.2L2.6 4.2L0.8 3.6L-3.6 3.2L-4.4 0Z"/><ellipse cx="-1.4" cy="-0.6" rx="1.3" ry="1.6" fill="#999"/></g>
<g transform="translate(946.2 326.9) rotate(195)"><path d="M2 -1.6L8.5 -1.6L8.5 1.6L2 1.6Z" fill="#777" stroke="#222" stroke-width="0.8"/><path class="k" d="M-3.6 -3.2L0.8 -3.6L2.6 -4.2L2.6 4.2L0.8 3.6L-3.6 3.2L-4.4 0Z"/><ellipse cx="-1.4" cy="-0.6" rx="1.3" ry="1.6" fill="#999"/></g>
<g transform="translate(888.2 367) rotate(195)"><path d="M2 -1.6L8.5 -1.6L8.5 1.6L2 1.6Z" fill="#777" stroke="#222" stroke-width="0.8"/><path class="k" d="M-3.6 -3.2L0.8 -3.6L2.6 -4.2L2.6 4.2L0.8 3.6L-3.6 3.2L-4.4 0Z"/><ellipse cx="-1.4" cy="-0.6" rx="1.3" ry="1.6" fill="#999"/></g>
<ellipse class="k" cx="766.3" cy="31" rx="4.3" ry="3.2"/>
<path class="k" d="M764.1 32.5L768.7 32.5L766.6 39.5Z" fill="#444"/>
<ellipse class="w" cx="766.3" cy="30.2" rx="1.8" ry="0.8" opacity="0.5"/>
<ellipse class="k" cx="806.7" cy="26" rx="4.3" ry="3.2"/>
<path class="k" d="M804.5 27.5L809.1 27.5L807 34.5Z" fill="#444"/>
<ellipse class="w" cx="806.7" cy="25.2" rx="1.8" ry="0.8" opacity="0.5"/>
<ellipse class="k" cx="854.8" cy="22" rx="4.3" ry="3.2"/>
<path class="k" d="M852.6 23.5L857.2 23.5L855.1 30.5Z" fill="#444"/>
<ellipse class="w" cx="854.8" cy="21.2" rx="1.8" ry="0.8" opacity="0.5"/>
</g>
<g id="80_dash_over">
<path class="d" d="M225.52 1246.82L251.08 1229.82"/>
<path class="d" d="M233.84 1267.03L299.22 1225.66"/>
<path class="d" d="M220.77 1292.23L245.13 1276.18"/>
<path class="d" d="M254.88 1305.54L282.58 1286.52"/>
<path class="d" d="M257.02 1253.6L305.76 1222.33"/>
<path class="d" d="M129.29 978.93L145.52 983.45"/>
<path class="d" d="M232.38 1006.72L271.17 1017.96"/>
<path class="d" d="M766.3 38L766.3 98"/>
<path class="d2" d="M766.3 98L766.3 150"/>
<path class="d" d="M766.3 178L766.3 295"/>
<path class="d" d="M807.2 34L807.2 64"/>
<path class="d2" d="M807.2 64L807.2 168"/>
<path class="d" d="M807.2 172L807.2 230"/>
<path class="d2" d="M807.2 262L807.2 328"/>
<path class="d" d="M824.3 176L824.3 268"/>
<path class="d" d="M856 30L856 64"/>
<path class="d2" d="M856 64L856 158"/>
<path class="d" d="M856 160L856 252"/>
<path class="d2" d="M825.6 806L825.6 936"/>
<path class="d2" d="M825.6 1000L825.6 1062"/>
<path class="d2" d="M825.6 412L825.6 436"/>
<path class="d2" d="M825.6 476L825.6 500"/>
<path class="d2" d="M573.89 1034.44L532.29 1064.15"/>
<path class="d2" d="M750.85 912.33L712.41 937.96"/>
<path class="d2" d="M677.86 960.81L660.03 973.07"/>
</g>
<g id="90_labels">
<text class="t" x="737.7" y="42.5">79</text>
<path class="l" d="M749 35.2L764 35.2"/>
<text class="t" x="833.4" y="36.8">79</text>
<path class="l" d="M808.4 31L822.7 31"/>
<text class="t" x="885.4" y="33.6">79</text>
<path class="l" d="M857 26.6L873 26.6"/>
<text class="t" x="933.8" y="116.5">78</text>
<path class="l" d="M907 109.4L922.5 109.4"/>
<text class="t" x="794.16" y="385.94">76</text>
<path class="l" d="M804.19 378.37L819.17 378.37"/>
<text class="t" x="786.14" y="408.68">75</text>
<path class="l" d="M796.17 400.04L814.22 400.04"/>
<text class="t" x="753.37" y="450.4">74</text>
<path class="l" d="M764.07 442.56L780.12 442.56"/>
<text class="t" x="891.78" y="529.97">68</text>
<path class="l" d="M865.71 522.8L880.42 522.8"/>
<text class="t" x="761.4" y="483.83">70</text>
<path class="l" d="M757.12 482.68L757.12 497.39"/>
<text class="t" x="899.81" y="437.29">73</text>
<path class="l" d="M897.8 439.89L897.8 451.92"/>
<text class="t" x="952.47" y="459.93">70</text>
<path class="l" d="M925.72 452.88L942.44 452.88"/>
<text class="t" x="929.62" y="482.78">72</text>
<path class="l" d="M901.2 475.39L918.48 475.39"/>
<text class="t" x="990.36" y="524.57">71</text>
<path class="l" d="M963.61 518.29L978.66 518.29"/>
<text class="t" x="697.39" y="501.57">70</text>
<path class="l" d="M707.98 492.85L724.7 492.85"/>
<text class="t" x="661.17" y="561.75">69</text>
<path class="l" d="M672.32 553.58L689.03 553.58"/>
<text class="t" x="892.91" y="564.33">1</text>
<path class="l" d="M871.87 556.58L887.03 556.58"/>
<text class="t" x="913.24" y="589.65">67</text>
<path class="l" d="M890.59 582.26L903.08 582.26"/>
<text class="t" x="891.49" y="617.82">66</text>
<path class="l" d="M865.63 609.54L880.79 609.54"/>
<text class="t" x="832.29" y="626.74">65</text>
<path class="l" d="M843.34 622.38L858.5 622.38"/>
<text class="t" x="899.51" y="642.79">64</text>
<path class="l" d="M871.87 633.61L888.81 633.61"/>
<text class="t" x="861.53" y="663.29">61</text>
<path class="l" d="M837.99 656.79L851.37 656.79"/>
<text class="t" x="780.94" y="627.09">62</text>
<path class="l" d="M781.47 626.48L781.47 639.85"/>
<text class="t" x="802.69" y="598.21">1</text>
<path class="l" d="M803.4 600.62L803.4 614.89"/>
<text class="t" x="698.02" y="633.87">63</text>
<path class="l" d="M708.72 625.59L725.66 625.59"/>
<text class="t" x="738.93" y="727.96">51</text>
<path class="l" d="M748.69 721.46L764.74 721.46"/>
<text class="t" x="874.13" y="783.46">50</text>
<path class="l" d="M846.98 777.36L863.7 777.36"/>
<text class="t" x="940.34" y="646.11">52</text>
<path class="l" d="M939.36 646.15L939.36 662.82"/>
<text class="t" x="987.58" y="660.01">1</text>
<path class="l" d="M987.25 663.31L987.25 676.39"/>
<text class="t" x="1008.01" y="688.61">60</text>
<path class="l" d="M1008.01 689.47L1008.01 702.54"/>
<text class="t" x="1022.07" y="724.24">56</text>
<path class="l" d="M1021.58 723.79L1021.58 739.32"/>
<text class="t" x="1076.33" y="736.34">59</text>
<path class="l" d="M1051 727.88L1064.89 727.88"/>
<text class="t" x="1081.56" y="766.74">48</text>
<path class="l" d="M1054.26 760.56L1070.61 760.56"/>
<text class="t" x="931.68" y="775.56">53</text>
<path class="l" d="M932.82 745.04L932.82 762.2"/>
<text class="t" x="972.21" y="787.01">54</text>
<path class="l" d="M971.72 758.93L971.72 772.82"/>
<text class="t" x="1003.92" y="794.85">55</text>
<path class="l" d="M1003.6 767.92L1003.6 781"/>
<text class="t" x="1059.99" y="812.34">58</text>
<path class="l" d="M1058.35 781L1058.35 796.52"/>
<text class="t" x="1027.3" y="827.54">57</text>
<path class="l" d="M1026.97 795.71L1026.97 813.68"/>
<text class="t" x="1231.62" y="741.27">84</text>
<path class="l" d="M1204.19 734.77L1218.68 734.77"/>
<text class="t" x="1237.41" y="805.01">80</text>
<path class="l" d="M1210.37 796L1226.4 796"/>
<text class="t" x="1160.15" y="889.04">81</text>
<path class="l" d="M1134.65 881.58L1150.1 881.58"/>
<text class="t" x="1091.77" y="900.63">82</text>
<path class="l" d="M1102.78 894.71L1117.27 894.71"/>
<text class="t" x="1143.92" y="928.64">83</text>
<path class="l" d="M1119.2 922.72L1132.72 922.72"/>
<text class="t" x="1056.03" y="946.02">82</text>
<path class="l" d="M1066.08 940.1L1083.46 940.1"/>
<text class="t" x="790.09" y="832.34">20</text>
<path class="l" d="M802.12 825.04L818.84 825.04"/>
<text class="t" x="913.52" y="817.9">21</text>
<path class="l" d="M885.71 811.4L902.42 811.4"/>
<text class="t" x="876.34" y="896.13">28</text>
<path class="l" d="M850.94 888.96L866.32 888.96"/>
<text class="t" x="905.1" y="928.89">27</text>
<path class="l" d="M879.02 923.06L895.74 923.06"/>
<text class="t" x="788.35" y="954.97">22</text>
<path class="l" d="M798.78 949.81L813.49 949.81"/>
<text class="t" x="778.45" y="932.9">19</text>
<text class="t" x="732.54" y="845.22">17</text>
<path class="l" d="M742.3 840.46L758.35 840.46"/>
<text class="t" x="732.54" y="865.95">18</text>
<path class="l" d="M742.3 860.12L759.02 860.12"/>
<path class="l" d="M778.01 904.92L778.01 918.96"/>
<text class="t" x="732.27" y="971.6">16</text>
<path class="l" d="M731.6 944.37L731.6 959.08"/>
<text class="t" x="670.09" y="912.09">15</text>
<path class="l" d="M671.03 912.94L671.03 928.32"/>
<text class="t" x="760.09" y="968.92">17</text>
<path class="l" d="M761.69 940.36L761.69 955.74"/>
<text class="t" x="862.04" y="977.75">23</text>
<path class="l" d="M833.81 971.99L850.16 971.99"/>
<text class="t" x="786.26" y="996.62">24</text>
<path class="l" d="M797.41 990.12L813.01 990.12"/>
<text class="t" x="874.67" y="996.32">29</text>
<path class="l" d="M847.93 990.12L863.53 990.12"/>
<text class="t" x="749.12" y="1017.72">29</text>
<path class="l" d="M761 1010.92L775.12 1010.92"/>
<text class="t" x="732.03" y="1055.46">25</text>
<path class="l" d="M742.43 1048.37L757.29 1048.37"/>
<text class="t" x="775.86" y="1100.63">26</text>
<path class="l" d="M787.01 1095.62L801.86 1095.62"/>
<text class="t" x="854.61" y="1091.72">26</text>
<path class="l" d="M830.1 1086.4L845.7 1086.4"/>
<text class="t" x="889.53" y="1099.14">26</text>
<path class="l" d="M864.27 1092.64L879.87 1092.64"/>
<text class="t" x="921.92" y="1114.45">26</text>
<path class="l" d="M896.22 1108.69L911.08 1108.69"/>
<text class="t" x="758.03" y="1128.86">26</text>
<path class="l" d="M769.18 1122.66L784.78 1122.66"/>
<text class="t" x="808.85" y="1141.79">26</text>
<path class="l" d="M819.7 1136.48L836.04 1136.48"/>
<text class="t" x="851.94" y="1132.87">26</text>
<path class="l" d="M862.79 1127.86L876.9 1127.86"/>
<text class="t" x="615.05" y="1010.47">13</text>
<path class="l" d="M615.79 1011.4L615.79 1025.52"/>
<text class="t" x="626.94" y="1069.17">13</text>
<path class="l" d="M625.9 1041.86L625.9 1055.24"/>
<text class="t" x="689.05" y="1006.76">14</text>
<path class="l" d="M665.27 999.96L678.65 999.96"/>
<text class="t" x="659.03" y="1050.59">14</text>
<path class="l" d="M660.07 1021.81L660.07 1037.41"/>
<text class="t" x="608.81" y="1088.48">12</text>
<path class="l" d="M583.55 1084.21L599.15 1084.21"/>
<text class="t" x="399.39" y="1065.92">10</text>
<path class="l" d="M399.39 1066.78L399.39 1082.15"/>
<text class="t" x="438.84" y="1077.69">9</text>
<path class="l" d="M437.77 1078.81L437.77 1092.85"/>
<text class="t" x="430.15" y="1163.54">9</text>
<path class="l" d="M430.15 1135.65L430.15 1150.36"/>
<text class="t" x="448.47" y="1160.87">9</text>
<path class="l" d="M448.47 1131.63L448.47 1147.68"/>
<text class="t" x="476.55" y="1171.57">9</text>
<path class="l" d="M476.55 1143.67L476.55 1157.71"/>
<text class="t" x="512.39" y="1162.87">11</text>
<path class="l" d="M512.39 1132.97L512.39 1149.02"/>
<text class="t" x="411.83" y="1190.29">8</text>
<path class="l" d="M411.43 1161.72L411.43 1176.43"/>
<text class="t" x="389.09" y="1130.11">7</text>
<path class="l" d="M388.69 1130.97L388.69 1145.68"/>
<text class="t" x="295.36" y="1175.37">4</text>
<path class="l" d="M300.44 1168.2L315.82 1168.2"/>
<text class="t" x="341.89" y="1166.68">5</text>
<path class="l" d="M342.16 1167.53L342.16 1181.58"/>
<text class="t" x="344.17" y="1238.22">5</text>
<path class="l" d="M344.17 1208.99L344.17 1225.04"/>
<text class="t" x="361.02" y="1152.64">6</text>
<path class="l" d="M361.95 1153.49L361.95 1165.53"/>
<text class="t" x="365.97" y="1222.84">6</text>
<path class="l" d="M366.23 1195.62L366.23 1208.99"/>
<text class="t" x="281.05" y="1220.17">3</text>
<path class="l" d="M286.4 1213.67L299.1 1213.67"/>
<text class="t" x="319.16" y="1267.64">3</text>
<path class="l" d="M319.83 1239.75L319.83 1253.79"/>
<text class="t" x="220.77" y="1230.38">1</text>
<path class="l" d="M221.36 1231.01L221.36 1246.46"/>
<text class="t" x="205.67" y="1278.52">1</text>
<path class="l" d="M209.47 1272.02L226.11 1272.02"/>
<text class="t" x="194.61" y="1302.89">1</text>
<path class="l" d="M199.37 1295.2L214.23 1295.2"/>
<text class="t" x="274.85" y="1316.56">1</text>
<path class="l" d="M254.64 1311.01L269.5 1311.01"/>
<text class="t" x="309.56" y="1290.41">2</text>
<path class="l" d="M289.71 1285.1L305.16 1285.1"/>
<text class="t" x="158.93" y="920.78">36</text>
<path class="l" d="M160.34 920.35L160.34 935.17"/>
<text class="t" x="218.92" y="933.2">36</text>
<path class="l" d="M218.5 933.05L218.5 947.88"/>
<text class="t" x="121.52" y="1053.19">35</text>
<path class="l" d="M122.51 1025.51L122.51 1040.33"/>
<text class="t" x="91.17" y="1066.6">36</text>
<path class="l" d="M91.46 1038.22L91.46 1053.04"/>
<text class="t" x="193.51" y="979.08">26</text>
<path class="l" d="M193.51 979.64L193.51 994.46"/>
<text class="t" x="226.69" y="983.31">32</text>
<path class="l" d="M225.98 983.87L225.98 999.4"/>
<text class="t" x="172.34" y="1060.24">26</text>
<path class="l" d="M175.16 1031.16L175.16 1047.39"/>
<text class="t" x="207.21" y="1067.3">34</text>
<path class="l" d="M208.05 1039.63L208.05 1053.74"/>
<text class="t" x="242.92" y="1072.53">33</text>
<path class="l" d="M243.75 1043.9L243.75 1058.61"/>
<text class="t" x="319.04" y="991.56">31</text>
<path class="l" d="M318.64 993.08L318.64 1010.47"/>
<text class="t" x="348.46" y="1106.57">30</text>
<path class="l" d="M348.06 1080.01L348.06 1093.38"/>
<text class="t" x="701.13" y="1130.3">37</text>
<path class="l" d="M700.73 1130.09L700.73 1144.8"/>
<text class="t" x="706.75" y="1186.74">37</text>
<path class="l" d="M706.75 1158.84L706.75 1172.88"/>
<text class="t" x="769.87" y="1207.47">38</text>
<path class="l" d="M770.94 1178.9L770.94 1194.28"/>
<text class="t" x="797.28" y="1221.77">39</text>
<path class="l" d="M797.41 1192.94L797.41 1208.32"/>
<text class="t" x="826.03" y="1237.29">40</text>
<path class="l" d="M825.77 1210.33L825.77 1223.7"/>
<text class="t" x="903.05" y="1165.13">43</text>
<path class="l" d="M914.58 1159.23L929.44 1159.23"/>
<text class="t" x="896.15" y="1184.75">42</text>
<path class="l" d="M907.44 1178.25L923.49 1178.25"/>
<text class="t" x="947.86" y="1194.85">42</text>
<path class="l" d="M946.67 1166.95L946.67 1181.22"/>
<text class="t" x="965.69" y="1150.27">44</text>
<path class="l" d="M966.05 1147.34L966.05 1161.01"/>
<text class="t" x="912.44" y="1268.55">41</text>
<path class="l" d="M912.44 1242.44L912.44 1256.7"/>
<text class="t" x="957.13" y="1260.23">45</text>
<path class="l" d="M957.37 1234.12L957.37 1248.38"/>
<text class="t" x="1103.77" y="1132.01">49</text>
<path class="l" d="M1076.48 1124.37L1092.82 1124.37"/>
<text class="t" x="965.82" y="1081.83">46</text>
<path class="l" d="M964.84 1081.87L964.84 1096.58"/>
<text class="t" x="1093.64" y="1207.2">47</text>
<path class="l" d="M1094.46 1207.73L1094.46 1221.62"/>
<text class="t" x="1128.78" y="1264.08">48</text>
<path class="l" d="M1100.18 1254.64L1117.34 1254.64"/>
<text class="t" x="1086.94" y="1294.48">48</text>
<path class="l" d="M1086.61 1264.12L1086.61 1280.46"/>
<text class="t" x="699.4" y="255.3">70</text>
<path class="l" d="M710 249.3L721.6 249.3"/>
<text class="t" x="664.6" y="321.6">70</text>
<path class="l" d="M676 314.3L690.8 314.3"/>
<text class="t" x="909.3" y="287.6">77</text>
<path class="l" d="M884.7 282.7L899.4 282.7"/>
<text class="t" x="976.4" y="334.2">70</text>
<path class="l" d="M951.6 326.9L966.3 326.9"/>
<text class="t" x="917.3" y="375.6">70</text>
<path class="l" d="M892.7 367.3L906.1 367.3"/>
</g>
<g id="95_tick">
<rect x="0" y="1334" width="1.6" height="2" fill="#f00"/><rect x="1.6" y="1334" width="1.6" height="2" fill="#0c0"/><rect x="3.2" y="1334" width="1.8" height="2" fill="#00f"/>
</g>
</g>
</svg>
</body></html>
